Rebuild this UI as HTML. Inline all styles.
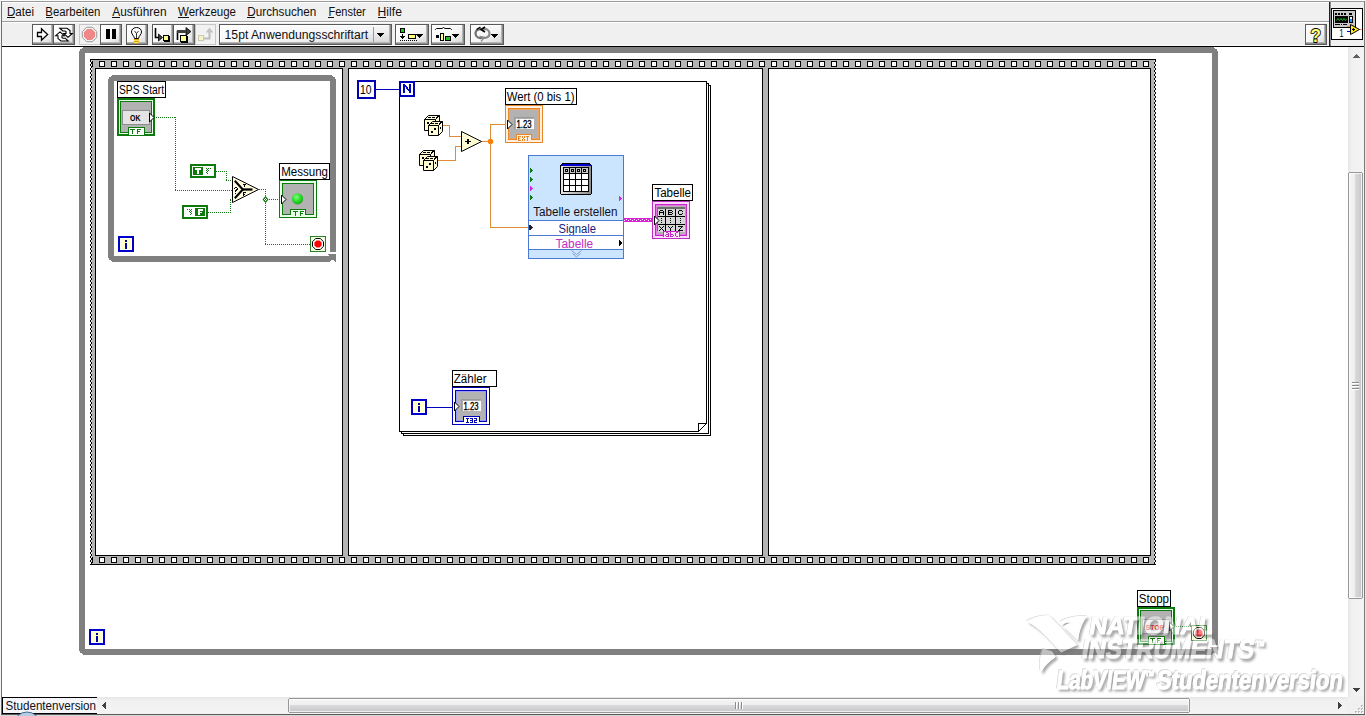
<!DOCTYPE html>
<html><head><meta charset="utf-8"><title>LabVIEW Blockdiagramm</title>
<style>
html,body{margin:0;padding:0;background:#fff;overflow:hidden}
svg{display:block;font-family:"Liberation Sans",sans-serif}
svg rect, svg path.c, svg polygon.c{shape-rendering:crispEdges}
</style></head><body>
<svg width="1366" height="716" viewBox="0 0 1366 716">
<rect x="0" y="0" width="1366" height="716" fill="#ffffff" />
<rect x="0" y="0" width="1366" height="1" fill="#fbfbfb" />
<rect x="1" y="1" width="1364" height="1" fill="#9a9a9a" />
<rect x="2" y="2" width="1327" height="19" fill="#f0f0f0" />
<rect x="2" y="21" width="1327" height="1" fill="#a0a0a0" />
<rect x="2" y="22" width="1327" height="24" fill="#f0f0f0" />
<rect x="2" y="2" width="1327" height="1" fill="#ffffff" />
<rect x="2" y="22" width="1327" height="1" fill="#ffffff" />
<rect x="2" y="45" width="1327" height="1" fill="#fbfbfb" />
<rect x="1329" y="2" width="1" height="44" fill="#202020" />
<rect x="1330" y="2" width="1" height="44" fill="#909090" />
<rect x="1331" y="2" width="33" height="44" fill="#f0f0f0" />
<rect x="2" y="46" width="1362" height="1" fill="#000000" />
<rect x="0" y="0" width="1" height="716" fill="#f4f4f4" />
<rect x="1" y="1" width="1" height="714" fill="#6e6e6e" />
<rect x="1364" y="1" width="1" height="714" fill="#7a7a7a" />
<rect x="1365" y="0" width="1" height="716" fill="#e6e6e6" />
<rect x="1" y="714" width="1364" height="1" fill="#5a5a5a" />
<rect x="0" y="715" width="1366" height="1" fill="#d8d8d8" />
<text x="7" y="16" font-size="12" fill="#111" font-weight="normal" font-style="normal" text-anchor="start" textLength="27" lengthAdjust="spacingAndGlyphs" >Datei</text>
<text x="45.3" y="16" font-size="12" fill="#111" font-weight="normal" font-style="normal" text-anchor="start" textLength="55" lengthAdjust="spacingAndGlyphs" >Bearbeiten</text>
<text x="112.3" y="16" font-size="12" fill="#111" font-weight="normal" font-style="normal" text-anchor="start" textLength="54.2" lengthAdjust="spacingAndGlyphs" >Ausführen</text>
<text x="178" y="16" font-size="12" fill="#111" font-weight="normal" font-style="normal" text-anchor="start" textLength="58" lengthAdjust="spacingAndGlyphs" >Werkzeuge</text>
<text x="247.3" y="16" font-size="12" fill="#111" font-weight="normal" font-style="normal" text-anchor="start" textLength="69" lengthAdjust="spacingAndGlyphs" >Durchsuchen</text>
<text x="328.4" y="16" font-size="12" fill="#111" font-weight="normal" font-style="normal" text-anchor="start" textLength="37.4" lengthAdjust="spacingAndGlyphs" >Fenster</text>
<text x="377.6" y="16" font-size="12" fill="#111" font-weight="normal" font-style="normal" text-anchor="start" textLength="24.3" lengthAdjust="spacingAndGlyphs" >Hilfe</text>
<rect x="7" y="17" width="8" height="1" fill="#111" />
<rect x="46" y="17" width="7" height="1" fill="#111" />
<rect x="112" y="17" width="8" height="1" fill="#111" />
<rect x="178" y="17" width="11" height="1" fill="#111" />
<rect x="247" y="17" width="8" height="1" fill="#111" />
<rect x="328" y="17" width="6" height="1" fill="#111" />
<rect x="378" y="17" width="8" height="1" fill="#111" />
<rect x="79" y="47" width="1139" height="6" fill="#808080" />
<rect x="79" y="47" width="6" height="608" fill="#808080" />
<rect x="1212" y="47" width="6" height="598" fill="#808080" />
<rect x="79" y="649" width="1132" height="6" fill="#808080" />
<rect x="79" y="47" width="4" height="1" fill="#ffffff" />
<rect x="79" y="48" width="3" height="1" fill="#ffffff" />
<rect x="79" y="49" width="1" height="1" fill="#ffffff" />
<rect x="79" y="50" width="1" height="1" fill="#ffffff" />
<rect x="1214" y="47" width="4" height="1" fill="#ffffff" />
<rect x="1215" y="48" width="3" height="1" fill="#ffffff" />
<rect x="1217" y="49" width="1" height="1" fill="#ffffff" />
<rect x="1217" y="50" width="1" height="1" fill="#ffffff" />
<rect x="79" y="654" width="4" height="1" fill="#ffffff" />
<rect x="79" y="653" width="3" height="1" fill="#ffffff" />
<rect x="79" y="652" width="1" height="1" fill="#ffffff" />
<rect x="79" y="651" width="1" height="1" fill="#ffffff" />
<rect x="1210" y="647" width="8" height="1" fill="#808080" />
<rect x="1211" y="648" width="7" height="1" fill="#808080" />
<rect x="1211" y="649" width="7" height="4" fill="#808080" />
<rect x="1211" y="653" width="2" height="1" fill="#808080" />
<rect x="1216" y="653" width="2" height="1" fill="#808080" />
<rect x="1211" y="654" width="1" height="1" fill="#808080" />
<rect x="1217" y="654" width="1" height="1" fill="#808080" />
<rect x="90" y="59" width="6" height="506" fill="#b4b4b4" />
<rect x="1150" y="59" width="6" height="506" fill="#b4b4b4" />
<rect x="90" y="59" width="1066" height="10" fill="#b4b4b4" />
<path d="M99 61h6v6h-6zM111 61h6v6h-6zM123 61h6v6h-6zM135 61h6v6h-6zM147 61h6v6h-6zM159 61h6v6h-6zM171 61h6v6h-6zM183 61h6v6h-6zM195 61h6v6h-6zM207 61h6v6h-6zM219 61h6v6h-6zM231 61h6v6h-6zM243 61h6v6h-6zM255 61h6v6h-6zM267 61h6v6h-6zM279 61h6v6h-6zM291 61h6v6h-6zM303 61h6v6h-6zM315 61h6v6h-6zM327 61h6v6h-6zM339 61h6v6h-6zM351 61h6v6h-6zM363 61h6v6h-6zM375 61h6v6h-6zM387 61h6v6h-6zM399 61h6v6h-6zM411 61h6v6h-6zM423 61h6v6h-6zM435 61h6v6h-6zM447 61h6v6h-6zM459 61h6v6h-6zM471 61h6v6h-6zM483 61h6v6h-6zM495 61h6v6h-6zM507 61h6v6h-6zM519 61h6v6h-6zM531 61h6v6h-6zM543 61h6v6h-6zM555 61h6v6h-6zM567 61h6v6h-6zM579 61h6v6h-6zM591 61h6v6h-6zM603 61h6v6h-6zM615 61h6v6h-6zM627 61h6v6h-6zM639 61h6v6h-6zM651 61h6v6h-6zM663 61h6v6h-6zM675 61h6v6h-6zM687 61h6v6h-6zM699 61h6v6h-6zM711 61h6v6h-6zM723 61h6v6h-6zM735 61h6v6h-6zM747 61h6v6h-6zM759 61h6v6h-6zM771 61h6v6h-6zM783 61h6v6h-6zM795 61h6v6h-6zM807 61h6v6h-6zM819 61h6v6h-6zM831 61h6v6h-6zM843 61h6v6h-6zM855 61h6v6h-6zM867 61h6v6h-6zM879 61h6v6h-6zM891 61h6v6h-6zM903 61h6v6h-6zM915 61h6v6h-6zM927 61h6v6h-6zM939 61h6v6h-6zM951 61h6v6h-6zM963 61h6v6h-6zM975 61h6v6h-6zM987 61h6v6h-6zM999 61h6v6h-6zM1011 61h6v6h-6zM1023 61h6v6h-6zM1035 61h6v6h-6zM1047 61h6v6h-6zM1059 61h6v6h-6zM1071 61h6v6h-6zM1083 61h6v6h-6zM1095 61h6v6h-6zM1107 61h6v6h-6zM1119 61h6v6h-6zM1131 61h6v6h-6zM1143 61h6v6h-6z" fill="#000" stroke="none" stroke-width="1" class="c"/>
<path d="M100 62h4v4h-4zM112 62h4v4h-4zM124 62h4v4h-4zM136 62h4v4h-4zM148 62h4v4h-4zM160 62h4v4h-4zM172 62h4v4h-4zM184 62h4v4h-4zM196 62h4v4h-4zM208 62h4v4h-4zM220 62h4v4h-4zM232 62h4v4h-4zM244 62h4v4h-4zM256 62h4v4h-4zM268 62h4v4h-4zM280 62h4v4h-4zM292 62h4v4h-4zM304 62h4v4h-4zM316 62h4v4h-4zM328 62h4v4h-4zM340 62h4v4h-4zM352 62h4v4h-4zM364 62h4v4h-4zM376 62h4v4h-4zM388 62h4v4h-4zM400 62h4v4h-4zM412 62h4v4h-4zM424 62h4v4h-4zM436 62h4v4h-4zM448 62h4v4h-4zM460 62h4v4h-4zM472 62h4v4h-4zM484 62h4v4h-4zM496 62h4v4h-4zM508 62h4v4h-4zM520 62h4v4h-4zM532 62h4v4h-4zM544 62h4v4h-4zM556 62h4v4h-4zM568 62h4v4h-4zM580 62h4v4h-4zM592 62h4v4h-4zM604 62h4v4h-4zM616 62h4v4h-4zM628 62h4v4h-4zM640 62h4v4h-4zM652 62h4v4h-4zM664 62h4v4h-4zM676 62h4v4h-4zM688 62h4v4h-4zM700 62h4v4h-4zM712 62h4v4h-4zM724 62h4v4h-4zM736 62h4v4h-4zM748 62h4v4h-4zM760 62h4v4h-4zM772 62h4v4h-4zM784 62h4v4h-4zM796 62h4v4h-4zM808 62h4v4h-4zM820 62h4v4h-4zM832 62h4v4h-4zM844 62h4v4h-4zM856 62h4v4h-4zM868 62h4v4h-4zM880 62h4v4h-4zM892 62h4v4h-4zM904 62h4v4h-4zM916 62h4v4h-4zM928 62h4v4h-4zM940 62h4v4h-4zM952 62h4v4h-4zM964 62h4v4h-4zM976 62h4v4h-4zM988 62h4v4h-4zM1000 62h4v4h-4zM1012 62h4v4h-4zM1024 62h4v4h-4zM1036 62h4v4h-4zM1048 62h4v4h-4zM1060 62h4v4h-4zM1072 62h4v4h-4zM1084 62h4v4h-4zM1096 62h4v4h-4zM1108 62h4v4h-4zM1120 62h4v4h-4zM1132 62h4v4h-4zM1144 62h4v4h-4z" fill="#fff" stroke="none" stroke-width="1" class="c"/>
<rect x="90" y="555" width="1066" height="10" fill="#b4b4b4" />
<path d="M99 557h6v6h-6zM111 557h6v6h-6zM123 557h6v6h-6zM135 557h6v6h-6zM147 557h6v6h-6zM159 557h6v6h-6zM171 557h6v6h-6zM183 557h6v6h-6zM195 557h6v6h-6zM207 557h6v6h-6zM219 557h6v6h-6zM231 557h6v6h-6zM243 557h6v6h-6zM255 557h6v6h-6zM267 557h6v6h-6zM279 557h6v6h-6zM291 557h6v6h-6zM303 557h6v6h-6zM315 557h6v6h-6zM327 557h6v6h-6zM339 557h6v6h-6zM351 557h6v6h-6zM363 557h6v6h-6zM375 557h6v6h-6zM387 557h6v6h-6zM399 557h6v6h-6zM411 557h6v6h-6zM423 557h6v6h-6zM435 557h6v6h-6zM447 557h6v6h-6zM459 557h6v6h-6zM471 557h6v6h-6zM483 557h6v6h-6zM495 557h6v6h-6zM507 557h6v6h-6zM519 557h6v6h-6zM531 557h6v6h-6zM543 557h6v6h-6zM555 557h6v6h-6zM567 557h6v6h-6zM579 557h6v6h-6zM591 557h6v6h-6zM603 557h6v6h-6zM615 557h6v6h-6zM627 557h6v6h-6zM639 557h6v6h-6zM651 557h6v6h-6zM663 557h6v6h-6zM675 557h6v6h-6zM687 557h6v6h-6zM699 557h6v6h-6zM711 557h6v6h-6zM723 557h6v6h-6zM735 557h6v6h-6zM747 557h6v6h-6zM759 557h6v6h-6zM771 557h6v6h-6zM783 557h6v6h-6zM795 557h6v6h-6zM807 557h6v6h-6zM819 557h6v6h-6zM831 557h6v6h-6zM843 557h6v6h-6zM855 557h6v6h-6zM867 557h6v6h-6zM879 557h6v6h-6zM891 557h6v6h-6zM903 557h6v6h-6zM915 557h6v6h-6zM927 557h6v6h-6zM939 557h6v6h-6zM951 557h6v6h-6zM963 557h6v6h-6zM975 557h6v6h-6zM987 557h6v6h-6zM999 557h6v6h-6zM1011 557h6v6h-6zM1023 557h6v6h-6zM1035 557h6v6h-6zM1047 557h6v6h-6zM1059 557h6v6h-6zM1071 557h6v6h-6zM1083 557h6v6h-6zM1095 557h6v6h-6zM1107 557h6v6h-6zM1119 557h6v6h-6zM1131 557h6v6h-6zM1143 557h6v6h-6z" fill="#000" stroke="none" stroke-width="1" class="c"/>
<path d="M100 558h4v4h-4zM112 558h4v4h-4zM124 558h4v4h-4zM136 558h4v4h-4zM148 558h4v4h-4zM160 558h4v4h-4zM172 558h4v4h-4zM184 558h4v4h-4zM196 558h4v4h-4zM208 558h4v4h-4zM220 558h4v4h-4zM232 558h4v4h-4zM244 558h4v4h-4zM256 558h4v4h-4zM268 558h4v4h-4zM280 558h4v4h-4zM292 558h4v4h-4zM304 558h4v4h-4zM316 558h4v4h-4zM328 558h4v4h-4zM340 558h4v4h-4zM352 558h4v4h-4zM364 558h4v4h-4zM376 558h4v4h-4zM388 558h4v4h-4zM400 558h4v4h-4zM412 558h4v4h-4zM424 558h4v4h-4zM436 558h4v4h-4zM448 558h4v4h-4zM460 558h4v4h-4zM472 558h4v4h-4zM484 558h4v4h-4zM496 558h4v4h-4zM508 558h4v4h-4zM520 558h4v4h-4zM532 558h4v4h-4zM544 558h4v4h-4zM556 558h4v4h-4zM568 558h4v4h-4zM580 558h4v4h-4zM592 558h4v4h-4zM604 558h4v4h-4zM616 558h4v4h-4zM628 558h4v4h-4zM640 558h4v4h-4zM652 558h4v4h-4zM664 558h4v4h-4zM676 558h4v4h-4zM688 558h4v4h-4zM700 558h4v4h-4zM712 558h4v4h-4zM724 558h4v4h-4zM736 558h4v4h-4zM748 558h4v4h-4zM760 558h4v4h-4zM772 558h4v4h-4zM784 558h4v4h-4zM796 558h4v4h-4zM808 558h4v4h-4zM820 558h4v4h-4zM832 558h4v4h-4zM844 558h4v4h-4zM856 558h4v4h-4zM868 558h4v4h-4zM880 558h4v4h-4zM892 558h4v4h-4zM904 558h4v4h-4zM916 558h4v4h-4zM928 558h4v4h-4zM940 558h4v4h-4zM952 558h4v4h-4zM964 558h4v4h-4zM976 558h4v4h-4zM988 558h4v4h-4zM1000 558h4v4h-4zM1012 558h4v4h-4zM1024 558h4v4h-4zM1036 558h4v4h-4zM1048 558h4v4h-4zM1060 558h4v4h-4zM1072 558h4v4h-4zM1084 558h4v4h-4zM1096 558h4v4h-4zM1108 558h4v4h-4zM1120 558h4v4h-4zM1132 558h4v4h-4zM1144 558h4v4h-4z" fill="#fff" stroke="none" stroke-width="1" class="c"/>
<rect x="90" y="59" width="1066" height="1" fill="#000" />
<rect x="90" y="564" width="1066" height="1" fill="#000" />
<rect x="95" y="68" width="248" height="488" fill="#000" />
<rect x="96" y="69" width="246" height="486" fill="#fff" />
<rect x="348" y="68" width="415" height="488" fill="#000" />
<rect x="349" y="69" width="413" height="486" fill="#fff" />
<rect x="768" y="68" width="383" height="488" fill="#000" />
<rect x="769" y="69" width="381" height="486" fill="#fff" />
<rect x="343" y="69" width="5" height="486" fill="#b4b4b4" />
<rect x="763" y="69" width="5" height="486" fill="#b4b4b4" />
<rect x="90" y="61" width="3" height="6" fill="#000" />
<rect x="90" y="62" width="2" height="4" fill="#fff" />
<rect x="90" y="557" width="3" height="6" fill="#000" />
<rect x="90" y="558" width="2" height="4" fill="#fff" />
<rect x="90" y="60" width="2" height="504" fill="#fff" />
<rect x="91" y="60" width="1" height="504" fill="#dedede" />
<path d="M90 60h1v1h-1zM90 61h1v1h-1zM91 62h1v1h-1zM91 63h1v1h-1zM90 64h1v1h-1zM90 65h1v1h-1zM91 66h1v1h-1zM91 67h1v1h-1zM90 68h1v1h-1zM90 69h1v1h-1zM91 70h1v1h-1zM91 71h1v1h-1zM90 72h1v1h-1zM90 73h1v1h-1zM91 74h1v1h-1zM91 75h1v1h-1zM90 76h1v1h-1zM90 77h1v1h-1zM91 78h1v1h-1zM91 79h1v1h-1zM90 80h1v1h-1zM90 81h1v1h-1zM91 82h1v1h-1zM91 83h1v1h-1zM90 84h1v1h-1zM90 85h1v1h-1zM91 86h1v1h-1zM91 87h1v1h-1zM90 88h1v1h-1zM90 89h1v1h-1zM91 90h1v1h-1zM91 91h1v1h-1zM90 92h1v1h-1zM90 93h1v1h-1zM91 94h1v1h-1zM91 95h1v1h-1zM90 96h1v1h-1zM90 97h1v1h-1zM91 98h1v1h-1zM91 99h1v1h-1zM90 100h1v1h-1zM90 101h1v1h-1zM91 102h1v1h-1zM91 103h1v1h-1zM90 104h1v1h-1zM90 105h1v1h-1zM91 106h1v1h-1zM91 107h1v1h-1zM90 108h1v1h-1zM90 109h1v1h-1zM91 110h1v1h-1zM91 111h1v1h-1zM90 112h1v1h-1zM90 113h1v1h-1zM91 114h1v1h-1zM91 115h1v1h-1zM90 116h1v1h-1zM90 117h1v1h-1zM91 118h1v1h-1zM91 119h1v1h-1zM90 120h1v1h-1zM90 121h1v1h-1zM91 122h1v1h-1zM91 123h1v1h-1zM90 124h1v1h-1zM90 125h1v1h-1zM91 126h1v1h-1zM91 127h1v1h-1zM90 128h1v1h-1zM90 129h1v1h-1zM91 130h1v1h-1zM91 131h1v1h-1zM90 132h1v1h-1zM90 133h1v1h-1zM91 134h1v1h-1zM91 135h1v1h-1zM90 136h1v1h-1zM90 137h1v1h-1zM91 138h1v1h-1zM91 139h1v1h-1zM90 140h1v1h-1zM90 141h1v1h-1zM91 142h1v1h-1zM91 143h1v1h-1zM90 144h1v1h-1zM90 145h1v1h-1zM91 146h1v1h-1zM91 147h1v1h-1zM90 148h1v1h-1zM90 149h1v1h-1zM91 150h1v1h-1zM91 151h1v1h-1zM90 152h1v1h-1zM90 153h1v1h-1zM91 154h1v1h-1zM91 155h1v1h-1zM90 156h1v1h-1zM90 157h1v1h-1zM91 158h1v1h-1zM91 159h1v1h-1zM90 160h1v1h-1zM90 161h1v1h-1zM91 162h1v1h-1zM91 163h1v1h-1zM90 164h1v1h-1zM90 165h1v1h-1zM91 166h1v1h-1zM91 167h1v1h-1zM90 168h1v1h-1zM90 169h1v1h-1zM91 170h1v1h-1zM91 171h1v1h-1zM90 172h1v1h-1zM90 173h1v1h-1zM91 174h1v1h-1zM91 175h1v1h-1zM90 176h1v1h-1zM90 177h1v1h-1zM91 178h1v1h-1zM91 179h1v1h-1zM90 180h1v1h-1zM90 181h1v1h-1zM91 182h1v1h-1zM91 183h1v1h-1zM90 184h1v1h-1zM90 185h1v1h-1zM91 186h1v1h-1zM91 187h1v1h-1zM90 188h1v1h-1zM90 189h1v1h-1zM91 190h1v1h-1zM91 191h1v1h-1zM90 192h1v1h-1zM90 193h1v1h-1zM91 194h1v1h-1zM91 195h1v1h-1zM90 196h1v1h-1zM90 197h1v1h-1zM91 198h1v1h-1zM91 199h1v1h-1zM90 200h1v1h-1zM90 201h1v1h-1zM91 202h1v1h-1zM91 203h1v1h-1zM90 204h1v1h-1zM90 205h1v1h-1zM91 206h1v1h-1zM91 207h1v1h-1zM90 208h1v1h-1zM90 209h1v1h-1zM91 210h1v1h-1zM91 211h1v1h-1zM90 212h1v1h-1zM90 213h1v1h-1zM91 214h1v1h-1zM91 215h1v1h-1zM90 216h1v1h-1zM90 217h1v1h-1zM91 218h1v1h-1zM91 219h1v1h-1zM90 220h1v1h-1zM90 221h1v1h-1zM91 222h1v1h-1zM91 223h1v1h-1zM90 224h1v1h-1zM90 225h1v1h-1zM91 226h1v1h-1zM91 227h1v1h-1zM90 228h1v1h-1zM90 229h1v1h-1zM91 230h1v1h-1zM91 231h1v1h-1zM90 232h1v1h-1zM90 233h1v1h-1zM91 234h1v1h-1zM91 235h1v1h-1zM90 236h1v1h-1zM90 237h1v1h-1zM91 238h1v1h-1zM91 239h1v1h-1zM90 240h1v1h-1zM90 241h1v1h-1zM91 242h1v1h-1zM91 243h1v1h-1zM90 244h1v1h-1zM90 245h1v1h-1zM91 246h1v1h-1zM91 247h1v1h-1zM90 248h1v1h-1zM90 249h1v1h-1zM91 250h1v1h-1zM91 251h1v1h-1zM90 252h1v1h-1zM90 253h1v1h-1zM91 254h1v1h-1zM91 255h1v1h-1zM90 256h1v1h-1zM90 257h1v1h-1zM91 258h1v1h-1zM91 259h1v1h-1zM90 260h1v1h-1zM90 261h1v1h-1zM91 262h1v1h-1zM91 263h1v1h-1zM90 264h1v1h-1zM90 265h1v1h-1zM91 266h1v1h-1zM91 267h1v1h-1zM90 268h1v1h-1zM90 269h1v1h-1zM91 270h1v1h-1zM91 271h1v1h-1zM90 272h1v1h-1zM90 273h1v1h-1zM91 274h1v1h-1zM91 275h1v1h-1zM90 276h1v1h-1zM90 277h1v1h-1zM91 278h1v1h-1zM91 279h1v1h-1zM90 280h1v1h-1zM90 281h1v1h-1zM91 282h1v1h-1zM91 283h1v1h-1zM90 284h1v1h-1zM90 285h1v1h-1zM91 286h1v1h-1zM91 287h1v1h-1zM90 288h1v1h-1zM90 289h1v1h-1zM91 290h1v1h-1zM91 291h1v1h-1zM90 292h1v1h-1zM90 293h1v1h-1zM91 294h1v1h-1zM91 295h1v1h-1zM90 296h1v1h-1zM90 297h1v1h-1zM91 298h1v1h-1zM91 299h1v1h-1zM90 300h1v1h-1zM90 301h1v1h-1zM91 302h1v1h-1zM91 303h1v1h-1zM90 304h1v1h-1zM90 305h1v1h-1zM91 306h1v1h-1zM91 307h1v1h-1zM90 308h1v1h-1zM90 309h1v1h-1zM91 310h1v1h-1zM91 311h1v1h-1zM90 312h1v1h-1zM90 313h1v1h-1zM91 314h1v1h-1zM91 315h1v1h-1zM90 316h1v1h-1zM90 317h1v1h-1zM91 318h1v1h-1zM91 319h1v1h-1zM90 320h1v1h-1zM90 321h1v1h-1zM91 322h1v1h-1zM91 323h1v1h-1zM90 324h1v1h-1zM90 325h1v1h-1zM91 326h1v1h-1zM91 327h1v1h-1zM90 328h1v1h-1zM90 329h1v1h-1zM91 330h1v1h-1zM91 331h1v1h-1zM90 332h1v1h-1zM90 333h1v1h-1zM91 334h1v1h-1zM91 335h1v1h-1zM90 336h1v1h-1zM90 337h1v1h-1zM91 338h1v1h-1zM91 339h1v1h-1zM90 340h1v1h-1zM90 341h1v1h-1zM91 342h1v1h-1zM91 343h1v1h-1zM90 344h1v1h-1zM90 345h1v1h-1zM91 346h1v1h-1zM91 347h1v1h-1zM90 348h1v1h-1zM90 349h1v1h-1zM91 350h1v1h-1zM91 351h1v1h-1zM90 352h1v1h-1zM90 353h1v1h-1zM91 354h1v1h-1zM91 355h1v1h-1zM90 356h1v1h-1zM90 357h1v1h-1zM91 358h1v1h-1zM91 359h1v1h-1zM90 360h1v1h-1zM90 361h1v1h-1zM91 362h1v1h-1zM91 363h1v1h-1zM90 364h1v1h-1zM90 365h1v1h-1zM91 366h1v1h-1zM91 367h1v1h-1zM90 368h1v1h-1zM90 369h1v1h-1zM91 370h1v1h-1zM91 371h1v1h-1zM90 372h1v1h-1zM90 373h1v1h-1zM91 374h1v1h-1zM91 375h1v1h-1zM90 376h1v1h-1zM90 377h1v1h-1zM91 378h1v1h-1zM91 379h1v1h-1zM90 380h1v1h-1zM90 381h1v1h-1zM91 382h1v1h-1zM91 383h1v1h-1zM90 384h1v1h-1zM90 385h1v1h-1zM91 386h1v1h-1zM91 387h1v1h-1zM90 388h1v1h-1zM90 389h1v1h-1zM91 390h1v1h-1zM91 391h1v1h-1zM90 392h1v1h-1zM90 393h1v1h-1zM91 394h1v1h-1zM91 395h1v1h-1zM90 396h1v1h-1zM90 397h1v1h-1zM91 398h1v1h-1zM91 399h1v1h-1zM90 400h1v1h-1zM90 401h1v1h-1zM91 402h1v1h-1zM91 403h1v1h-1zM90 404h1v1h-1zM90 405h1v1h-1zM91 406h1v1h-1zM91 407h1v1h-1zM90 408h1v1h-1zM90 409h1v1h-1zM91 410h1v1h-1zM91 411h1v1h-1zM90 412h1v1h-1zM90 413h1v1h-1zM91 414h1v1h-1zM91 415h1v1h-1zM90 416h1v1h-1zM90 417h1v1h-1zM91 418h1v1h-1zM91 419h1v1h-1zM90 420h1v1h-1zM90 421h1v1h-1zM91 422h1v1h-1zM91 423h1v1h-1zM90 424h1v1h-1zM90 425h1v1h-1zM91 426h1v1h-1zM91 427h1v1h-1zM90 428h1v1h-1zM90 429h1v1h-1zM91 430h1v1h-1zM91 431h1v1h-1zM90 432h1v1h-1zM90 433h1v1h-1zM91 434h1v1h-1zM91 435h1v1h-1zM90 436h1v1h-1zM90 437h1v1h-1zM91 438h1v1h-1zM91 439h1v1h-1zM90 440h1v1h-1zM90 441h1v1h-1zM91 442h1v1h-1zM91 443h1v1h-1zM90 444h1v1h-1zM90 445h1v1h-1zM91 446h1v1h-1zM91 447h1v1h-1zM90 448h1v1h-1zM90 449h1v1h-1zM91 450h1v1h-1zM91 451h1v1h-1zM90 452h1v1h-1zM90 453h1v1h-1zM91 454h1v1h-1zM91 455h1v1h-1zM90 456h1v1h-1zM90 457h1v1h-1zM91 458h1v1h-1zM91 459h1v1h-1zM90 460h1v1h-1zM90 461h1v1h-1zM91 462h1v1h-1zM91 463h1v1h-1zM90 464h1v1h-1zM90 465h1v1h-1zM91 466h1v1h-1zM91 467h1v1h-1zM90 468h1v1h-1zM90 469h1v1h-1zM91 470h1v1h-1zM91 471h1v1h-1zM90 472h1v1h-1zM90 473h1v1h-1zM91 474h1v1h-1zM91 475h1v1h-1zM90 476h1v1h-1zM90 477h1v1h-1zM91 478h1v1h-1zM91 479h1v1h-1zM90 480h1v1h-1zM90 481h1v1h-1zM91 482h1v1h-1zM91 483h1v1h-1zM90 484h1v1h-1zM90 485h1v1h-1zM91 486h1v1h-1zM91 487h1v1h-1zM90 488h1v1h-1zM90 489h1v1h-1zM91 490h1v1h-1zM91 491h1v1h-1zM90 492h1v1h-1zM90 493h1v1h-1zM91 494h1v1h-1zM91 495h1v1h-1zM90 496h1v1h-1zM90 497h1v1h-1zM91 498h1v1h-1zM91 499h1v1h-1zM90 500h1v1h-1zM90 501h1v1h-1zM91 502h1v1h-1zM91 503h1v1h-1zM90 504h1v1h-1zM90 505h1v1h-1zM91 506h1v1h-1zM91 507h1v1h-1zM90 508h1v1h-1zM90 509h1v1h-1zM91 510h1v1h-1zM91 511h1v1h-1zM90 512h1v1h-1zM90 513h1v1h-1zM91 514h1v1h-1zM91 515h1v1h-1zM90 516h1v1h-1zM90 517h1v1h-1zM91 518h1v1h-1zM91 519h1v1h-1zM90 520h1v1h-1zM90 521h1v1h-1zM91 522h1v1h-1zM91 523h1v1h-1zM90 524h1v1h-1zM90 525h1v1h-1zM91 526h1v1h-1zM91 527h1v1h-1zM90 528h1v1h-1zM90 529h1v1h-1zM91 530h1v1h-1zM91 531h1v1h-1zM90 532h1v1h-1zM90 533h1v1h-1zM91 534h1v1h-1zM91 535h1v1h-1zM90 536h1v1h-1zM90 537h1v1h-1zM91 538h1v1h-1zM91 539h1v1h-1zM90 540h1v1h-1zM90 541h1v1h-1zM91 542h1v1h-1zM91 543h1v1h-1zM90 544h1v1h-1zM90 545h1v1h-1zM91 546h1v1h-1zM91 547h1v1h-1zM90 548h1v1h-1zM90 549h1v1h-1zM91 550h1v1h-1zM91 551h1v1h-1zM90 552h1v1h-1zM90 553h1v1h-1zM91 554h1v1h-1zM91 555h1v1h-1zM90 556h1v1h-1zM90 557h1v1h-1zM91 558h1v1h-1zM91 559h1v1h-1zM90 560h1v1h-1zM90 561h1v1h-1zM91 562h1v1h-1zM91 563h1v1h-1z" fill="#000" stroke="none" stroke-width="1" class="c"/>
<rect x="1154" y="60" width="2" height="504" fill="#fff" />
<rect x="1154" y="60" width="1" height="504" fill="#dedede" />
<path d="M1155 60h1v1h-1zM1155 61h1v1h-1zM1154 62h1v1h-1zM1154 63h1v1h-1zM1155 64h1v1h-1zM1155 65h1v1h-1zM1154 66h1v1h-1zM1154 67h1v1h-1zM1155 68h1v1h-1zM1155 69h1v1h-1zM1154 70h1v1h-1zM1154 71h1v1h-1zM1155 72h1v1h-1zM1155 73h1v1h-1zM1154 74h1v1h-1zM1154 75h1v1h-1zM1155 76h1v1h-1zM1155 77h1v1h-1zM1154 78h1v1h-1zM1154 79h1v1h-1zM1155 80h1v1h-1zM1155 81h1v1h-1zM1154 82h1v1h-1zM1154 83h1v1h-1zM1155 84h1v1h-1zM1155 85h1v1h-1zM1154 86h1v1h-1zM1154 87h1v1h-1zM1155 88h1v1h-1zM1155 89h1v1h-1zM1154 90h1v1h-1zM1154 91h1v1h-1zM1155 92h1v1h-1zM1155 93h1v1h-1zM1154 94h1v1h-1zM1154 95h1v1h-1zM1155 96h1v1h-1zM1155 97h1v1h-1zM1154 98h1v1h-1zM1154 99h1v1h-1zM1155 100h1v1h-1zM1155 101h1v1h-1zM1154 102h1v1h-1zM1154 103h1v1h-1zM1155 104h1v1h-1zM1155 105h1v1h-1zM1154 106h1v1h-1zM1154 107h1v1h-1zM1155 108h1v1h-1zM1155 109h1v1h-1zM1154 110h1v1h-1zM1154 111h1v1h-1zM1155 112h1v1h-1zM1155 113h1v1h-1zM1154 114h1v1h-1zM1154 115h1v1h-1zM1155 116h1v1h-1zM1155 117h1v1h-1zM1154 118h1v1h-1zM1154 119h1v1h-1zM1155 120h1v1h-1zM1155 121h1v1h-1zM1154 122h1v1h-1zM1154 123h1v1h-1zM1155 124h1v1h-1zM1155 125h1v1h-1zM1154 126h1v1h-1zM1154 127h1v1h-1zM1155 128h1v1h-1zM1155 129h1v1h-1zM1154 130h1v1h-1zM1154 131h1v1h-1zM1155 132h1v1h-1zM1155 133h1v1h-1zM1154 134h1v1h-1zM1154 135h1v1h-1zM1155 136h1v1h-1zM1155 137h1v1h-1zM1154 138h1v1h-1zM1154 139h1v1h-1zM1155 140h1v1h-1zM1155 141h1v1h-1zM1154 142h1v1h-1zM1154 143h1v1h-1zM1155 144h1v1h-1zM1155 145h1v1h-1zM1154 146h1v1h-1zM1154 147h1v1h-1zM1155 148h1v1h-1zM1155 149h1v1h-1zM1154 150h1v1h-1zM1154 151h1v1h-1zM1155 152h1v1h-1zM1155 153h1v1h-1zM1154 154h1v1h-1zM1154 155h1v1h-1zM1155 156h1v1h-1zM1155 157h1v1h-1zM1154 158h1v1h-1zM1154 159h1v1h-1zM1155 160h1v1h-1zM1155 161h1v1h-1zM1154 162h1v1h-1zM1154 163h1v1h-1zM1155 164h1v1h-1zM1155 165h1v1h-1zM1154 166h1v1h-1zM1154 167h1v1h-1zM1155 168h1v1h-1zM1155 169h1v1h-1zM1154 170h1v1h-1zM1154 171h1v1h-1zM1155 172h1v1h-1zM1155 173h1v1h-1zM1154 174h1v1h-1zM1154 175h1v1h-1zM1155 176h1v1h-1zM1155 177h1v1h-1zM1154 178h1v1h-1zM1154 179h1v1h-1zM1155 180h1v1h-1zM1155 181h1v1h-1zM1154 182h1v1h-1zM1154 183h1v1h-1zM1155 184h1v1h-1zM1155 185h1v1h-1zM1154 186h1v1h-1zM1154 187h1v1h-1zM1155 188h1v1h-1zM1155 189h1v1h-1zM1154 190h1v1h-1zM1154 191h1v1h-1zM1155 192h1v1h-1zM1155 193h1v1h-1zM1154 194h1v1h-1zM1154 195h1v1h-1zM1155 196h1v1h-1zM1155 197h1v1h-1zM1154 198h1v1h-1zM1154 199h1v1h-1zM1155 200h1v1h-1zM1155 201h1v1h-1zM1154 202h1v1h-1zM1154 203h1v1h-1zM1155 204h1v1h-1zM1155 205h1v1h-1zM1154 206h1v1h-1zM1154 207h1v1h-1zM1155 208h1v1h-1zM1155 209h1v1h-1zM1154 210h1v1h-1zM1154 211h1v1h-1zM1155 212h1v1h-1zM1155 213h1v1h-1zM1154 214h1v1h-1zM1154 215h1v1h-1zM1155 216h1v1h-1zM1155 217h1v1h-1zM1154 218h1v1h-1zM1154 219h1v1h-1zM1155 220h1v1h-1zM1155 221h1v1h-1zM1154 222h1v1h-1zM1154 223h1v1h-1zM1155 224h1v1h-1zM1155 225h1v1h-1zM1154 226h1v1h-1zM1154 227h1v1h-1zM1155 228h1v1h-1zM1155 229h1v1h-1zM1154 230h1v1h-1zM1154 231h1v1h-1zM1155 232h1v1h-1zM1155 233h1v1h-1zM1154 234h1v1h-1zM1154 235h1v1h-1zM1155 236h1v1h-1zM1155 237h1v1h-1zM1154 238h1v1h-1zM1154 239h1v1h-1zM1155 240h1v1h-1zM1155 241h1v1h-1zM1154 242h1v1h-1zM1154 243h1v1h-1zM1155 244h1v1h-1zM1155 245h1v1h-1zM1154 246h1v1h-1zM1154 247h1v1h-1zM1155 248h1v1h-1zM1155 249h1v1h-1zM1154 250h1v1h-1zM1154 251h1v1h-1zM1155 252h1v1h-1zM1155 253h1v1h-1zM1154 254h1v1h-1zM1154 255h1v1h-1zM1155 256h1v1h-1zM1155 257h1v1h-1zM1154 258h1v1h-1zM1154 259h1v1h-1zM1155 260h1v1h-1zM1155 261h1v1h-1zM1154 262h1v1h-1zM1154 263h1v1h-1zM1155 264h1v1h-1zM1155 265h1v1h-1zM1154 266h1v1h-1zM1154 267h1v1h-1zM1155 268h1v1h-1zM1155 269h1v1h-1zM1154 270h1v1h-1zM1154 271h1v1h-1zM1155 272h1v1h-1zM1155 273h1v1h-1zM1154 274h1v1h-1zM1154 275h1v1h-1zM1155 276h1v1h-1zM1155 277h1v1h-1zM1154 278h1v1h-1zM1154 279h1v1h-1zM1155 280h1v1h-1zM1155 281h1v1h-1zM1154 282h1v1h-1zM1154 283h1v1h-1zM1155 284h1v1h-1zM1155 285h1v1h-1zM1154 286h1v1h-1zM1154 287h1v1h-1zM1155 288h1v1h-1zM1155 289h1v1h-1zM1154 290h1v1h-1zM1154 291h1v1h-1zM1155 292h1v1h-1zM1155 293h1v1h-1zM1154 294h1v1h-1zM1154 295h1v1h-1zM1155 296h1v1h-1zM1155 297h1v1h-1zM1154 298h1v1h-1zM1154 299h1v1h-1zM1155 300h1v1h-1zM1155 301h1v1h-1zM1154 302h1v1h-1zM1154 303h1v1h-1zM1155 304h1v1h-1zM1155 305h1v1h-1zM1154 306h1v1h-1zM1154 307h1v1h-1zM1155 308h1v1h-1zM1155 309h1v1h-1zM1154 310h1v1h-1zM1154 311h1v1h-1zM1155 312h1v1h-1zM1155 313h1v1h-1zM1154 314h1v1h-1zM1154 315h1v1h-1zM1155 316h1v1h-1zM1155 317h1v1h-1zM1154 318h1v1h-1zM1154 319h1v1h-1zM1155 320h1v1h-1zM1155 321h1v1h-1zM1154 322h1v1h-1zM1154 323h1v1h-1zM1155 324h1v1h-1zM1155 325h1v1h-1zM1154 326h1v1h-1zM1154 327h1v1h-1zM1155 328h1v1h-1zM1155 329h1v1h-1zM1154 330h1v1h-1zM1154 331h1v1h-1zM1155 332h1v1h-1zM1155 333h1v1h-1zM1154 334h1v1h-1zM1154 335h1v1h-1zM1155 336h1v1h-1zM1155 337h1v1h-1zM1154 338h1v1h-1zM1154 339h1v1h-1zM1155 340h1v1h-1zM1155 341h1v1h-1zM1154 342h1v1h-1zM1154 343h1v1h-1zM1155 344h1v1h-1zM1155 345h1v1h-1zM1154 346h1v1h-1zM1154 347h1v1h-1zM1155 348h1v1h-1zM1155 349h1v1h-1zM1154 350h1v1h-1zM1154 351h1v1h-1zM1155 352h1v1h-1zM1155 353h1v1h-1zM1154 354h1v1h-1zM1154 355h1v1h-1zM1155 356h1v1h-1zM1155 357h1v1h-1zM1154 358h1v1h-1zM1154 359h1v1h-1zM1155 360h1v1h-1zM1155 361h1v1h-1zM1154 362h1v1h-1zM1154 363h1v1h-1zM1155 364h1v1h-1zM1155 365h1v1h-1zM1154 366h1v1h-1zM1154 367h1v1h-1zM1155 368h1v1h-1zM1155 369h1v1h-1zM1154 370h1v1h-1zM1154 371h1v1h-1zM1155 372h1v1h-1zM1155 373h1v1h-1zM1154 374h1v1h-1zM1154 375h1v1h-1zM1155 376h1v1h-1zM1155 377h1v1h-1zM1154 378h1v1h-1zM1154 379h1v1h-1zM1155 380h1v1h-1zM1155 381h1v1h-1zM1154 382h1v1h-1zM1154 383h1v1h-1zM1155 384h1v1h-1zM1155 385h1v1h-1zM1154 386h1v1h-1zM1154 387h1v1h-1zM1155 388h1v1h-1zM1155 389h1v1h-1zM1154 390h1v1h-1zM1154 391h1v1h-1zM1155 392h1v1h-1zM1155 393h1v1h-1zM1154 394h1v1h-1zM1154 395h1v1h-1zM1155 396h1v1h-1zM1155 397h1v1h-1zM1154 398h1v1h-1zM1154 399h1v1h-1zM1155 400h1v1h-1zM1155 401h1v1h-1zM1154 402h1v1h-1zM1154 403h1v1h-1zM1155 404h1v1h-1zM1155 405h1v1h-1zM1154 406h1v1h-1zM1154 407h1v1h-1zM1155 408h1v1h-1zM1155 409h1v1h-1zM1154 410h1v1h-1zM1154 411h1v1h-1zM1155 412h1v1h-1zM1155 413h1v1h-1zM1154 414h1v1h-1zM1154 415h1v1h-1zM1155 416h1v1h-1zM1155 417h1v1h-1zM1154 418h1v1h-1zM1154 419h1v1h-1zM1155 420h1v1h-1zM1155 421h1v1h-1zM1154 422h1v1h-1zM1154 423h1v1h-1zM1155 424h1v1h-1zM1155 425h1v1h-1zM1154 426h1v1h-1zM1154 427h1v1h-1zM1155 428h1v1h-1zM1155 429h1v1h-1zM1154 430h1v1h-1zM1154 431h1v1h-1zM1155 432h1v1h-1zM1155 433h1v1h-1zM1154 434h1v1h-1zM1154 435h1v1h-1zM1155 436h1v1h-1zM1155 437h1v1h-1zM1154 438h1v1h-1zM1154 439h1v1h-1zM1155 440h1v1h-1zM1155 441h1v1h-1zM1154 442h1v1h-1zM1154 443h1v1h-1zM1155 444h1v1h-1zM1155 445h1v1h-1zM1154 446h1v1h-1zM1154 447h1v1h-1zM1155 448h1v1h-1zM1155 449h1v1h-1zM1154 450h1v1h-1zM1154 451h1v1h-1zM1155 452h1v1h-1zM1155 453h1v1h-1zM1154 454h1v1h-1zM1154 455h1v1h-1zM1155 456h1v1h-1zM1155 457h1v1h-1zM1154 458h1v1h-1zM1154 459h1v1h-1zM1155 460h1v1h-1zM1155 461h1v1h-1zM1154 462h1v1h-1zM1154 463h1v1h-1zM1155 464h1v1h-1zM1155 465h1v1h-1zM1154 466h1v1h-1zM1154 467h1v1h-1zM1155 468h1v1h-1zM1155 469h1v1h-1zM1154 470h1v1h-1zM1154 471h1v1h-1zM1155 472h1v1h-1zM1155 473h1v1h-1zM1154 474h1v1h-1zM1154 475h1v1h-1zM1155 476h1v1h-1zM1155 477h1v1h-1zM1154 478h1v1h-1zM1154 479h1v1h-1zM1155 480h1v1h-1zM1155 481h1v1h-1zM1154 482h1v1h-1zM1154 483h1v1h-1zM1155 484h1v1h-1zM1155 485h1v1h-1zM1154 486h1v1h-1zM1154 487h1v1h-1zM1155 488h1v1h-1zM1155 489h1v1h-1zM1154 490h1v1h-1zM1154 491h1v1h-1zM1155 492h1v1h-1zM1155 493h1v1h-1zM1154 494h1v1h-1zM1154 495h1v1h-1zM1155 496h1v1h-1zM1155 497h1v1h-1zM1154 498h1v1h-1zM1154 499h1v1h-1zM1155 500h1v1h-1zM1155 501h1v1h-1zM1154 502h1v1h-1zM1154 503h1v1h-1zM1155 504h1v1h-1zM1155 505h1v1h-1zM1154 506h1v1h-1zM1154 507h1v1h-1zM1155 508h1v1h-1zM1155 509h1v1h-1zM1154 510h1v1h-1zM1154 511h1v1h-1zM1155 512h1v1h-1zM1155 513h1v1h-1zM1154 514h1v1h-1zM1154 515h1v1h-1zM1155 516h1v1h-1zM1155 517h1v1h-1zM1154 518h1v1h-1zM1154 519h1v1h-1zM1155 520h1v1h-1zM1155 521h1v1h-1zM1154 522h1v1h-1zM1154 523h1v1h-1zM1155 524h1v1h-1zM1155 525h1v1h-1zM1154 526h1v1h-1zM1154 527h1v1h-1zM1155 528h1v1h-1zM1155 529h1v1h-1zM1154 530h1v1h-1zM1154 531h1v1h-1zM1155 532h1v1h-1zM1155 533h1v1h-1zM1154 534h1v1h-1zM1154 535h1v1h-1zM1155 536h1v1h-1zM1155 537h1v1h-1zM1154 538h1v1h-1zM1154 539h1v1h-1zM1155 540h1v1h-1zM1155 541h1v1h-1zM1154 542h1v1h-1zM1154 543h1v1h-1zM1155 544h1v1h-1zM1155 545h1v1h-1zM1154 546h1v1h-1zM1154 547h1v1h-1zM1155 548h1v1h-1zM1155 549h1v1h-1zM1154 550h1v1h-1zM1154 551h1v1h-1zM1155 552h1v1h-1zM1155 553h1v1h-1zM1154 554h1v1h-1zM1154 555h1v1h-1zM1155 556h1v1h-1zM1155 557h1v1h-1zM1154 558h1v1h-1zM1154 559h1v1h-1zM1155 560h1v1h-1zM1155 561h1v1h-1zM1154 562h1v1h-1zM1154 563h1v1h-1z" fill="#000" stroke="none" stroke-width="1" class="c"/>
<rect x="108" y="75" width="228" height="6" fill="#808080" />
<rect x="108" y="75" width="6" height="187" fill="#808080" />
<rect x="330" y="75" width="6" height="177" fill="#808080" />
<rect x="108" y="256" width="221" height="6" fill="#808080" />
<rect x="108" y="75" width="4" height="1" fill="#ffffff" />
<rect x="108" y="76" width="3" height="1" fill="#ffffff" />
<rect x="108" y="77" width="1" height="1" fill="#ffffff" />
<rect x="108" y="78" width="1" height="1" fill="#ffffff" />
<rect x="332" y="75" width="4" height="1" fill="#ffffff" />
<rect x="333" y="76" width="3" height="1" fill="#ffffff" />
<rect x="335" y="77" width="1" height="1" fill="#ffffff" />
<rect x="335" y="78" width="1" height="1" fill="#ffffff" />
<rect x="108" y="261" width="4" height="1" fill="#ffffff" />
<rect x="108" y="260" width="3" height="1" fill="#ffffff" />
<rect x="108" y="259" width="1" height="1" fill="#ffffff" />
<rect x="108" y="258" width="1" height="1" fill="#ffffff" />
<rect x="328" y="254" width="8" height="1" fill="#808080" />
<rect x="329" y="255" width="7" height="1" fill="#808080" />
<rect x="329" y="256" width="7" height="4" fill="#808080" />
<rect x="329" y="260" width="2" height="1" fill="#808080" />
<rect x="334" y="260" width="2" height="1" fill="#808080" />
<rect x="329" y="261" width="1" height="1" fill="#808080" />
<rect x="335" y="261" width="1" height="1" fill="#808080" />
<rect x="707" y="83" width="2" height="1" fill="#000" />
<rect x="708" y="83" width="1" height="351" fill="#000" />
<rect x="401" y="433" width="308" height="1" fill="#000" />
<rect x="709" y="85" width="2" height="1" fill="#000" />
<rect x="710" y="85" width="1" height="351" fill="#000" />
<rect x="403" y="435" width="308" height="1" fill="#000" />
<rect x="401" y="432" width="1" height="2" fill="#000" />
<rect x="403" y="434" width="1" height="2" fill="#000" />
<rect x="399" y="81" width="308" height="1" fill="#000" />
<rect x="399" y="81" width="1" height="351" fill="#000" />
<rect x="706" y="81" width="1" height="343" fill="#000" />
<rect x="399" y="431" width="300" height="1" fill="#000" />
<rect x="698" y="423" width="1" height="9" fill="#000" />
<rect x="698" y="423" width="9" height="1" fill="#000" />
<path d="M705 424h1v1h-1zM704 425h1v1h-1zM703 426h1v1h-1zM702 427h1v1h-1zM701 428h1v1h-1zM700 429h1v1h-1zM699 430h1v1h-1z" fill="#000" stroke="none" stroke-width="1" class="c"/>
<rect x="117" y="81" width="49" height="17" fill="#fff" />
<rect x="117" y="81" width="49" height="1" fill="#000" />
<rect x="117" y="97" width="49" height="1" fill="#000" />
<rect x="117" y="81" width="1" height="17" fill="#000" />
<rect x="165" y="81" width="1" height="17" fill="#000" />
<text x="119" y="94" font-size="12" fill="#000" font-weight="normal" font-style="normal" text-anchor="start" textLength="45" lengthAdjust="spacingAndGlyphs" >SPS Start</text>
<rect x="117" y="98" width="38" height="38" fill="#0d7a0d" />
<rect x="119" y="100" width="34" height="34" fill="#eaffea" />
<rect x="120" y="101" width="32" height="32" fill="#0d7a0d" />
<rect x="121" y="102" width="30" height="30" fill="#b2b2b2" />
<rect x="128" y="127" width="17" height="7" fill="#0d7a0d" />
<rect x="129" y="128" width="15" height="7" fill="#fff" />
<rect x="128" y="134" width="1" height="2" fill="#0d7a0d" />
<rect x="144" y="134" width="1" height="2" fill="#0d7a0d" />
<rect x="130" y="129" width="5" height="1" fill="#0d7a0d" />
<rect x="132" y="129" width="1" height="5" fill="#0d7a0d" />
<rect x="137" y="129" width="4" height="1" fill="#0d7a0d" />
<rect x="137" y="129" width="1" height="5" fill="#0d7a0d" />
<rect x="137" y="131" width="3" height="1" fill="#0d7a0d" />
<rect x="122" y="110" width="28" height="15" fill="#8c8c8c" />
<rect x="123" y="111" width="26" height="13" fill="#e4e4e4" />
<text x="130" y="121" font-size="8.5" fill="#000" font-weight="bold" font-style="normal" text-anchor="start" textLength="10.5" lengthAdjust="spacingAndGlyphs" >OK</text>
<path d="M149.5 113L154 117.5L149.5 122Z" fill="#fff" stroke="#000" stroke-width="1" />
<path d="M156 117h1v1h-1zM158 117h1v1h-1zM160 117h1v1h-1zM162 117h1v1h-1zM164 117h1v1h-1zM166 117h1v1h-1zM168 117h1v1h-1zM170 117h1v1h-1zM172 117h1v1h-1zM174 117h1v1h-1z" fill="#0d7a0d" stroke="none" stroke-width="1" />
<path d="M175 117h1v1h-1zM175 119h1v1h-1zM175 121h1v1h-1zM175 123h1v1h-1zM175 125h1v1h-1zM175 127h1v1h-1zM175 129h1v1h-1zM175 131h1v1h-1zM175 133h1v1h-1zM175 135h1v1h-1zM175 137h1v1h-1zM175 139h1v1h-1zM175 141h1v1h-1zM175 143h1v1h-1zM175 145h1v1h-1zM175 147h1v1h-1zM175 149h1v1h-1zM175 151h1v1h-1zM175 153h1v1h-1zM175 155h1v1h-1zM175 157h1v1h-1zM175 159h1v1h-1zM175 161h1v1h-1zM175 163h1v1h-1zM175 165h1v1h-1zM175 167h1v1h-1zM175 169h1v1h-1zM175 171h1v1h-1zM175 173h1v1h-1zM175 175h1v1h-1zM175 177h1v1h-1zM175 179h1v1h-1zM175 181h1v1h-1zM175 183h1v1h-1zM175 185h1v1h-1zM175 187h1v1h-1zM175 189h1v1h-1z" fill="#0d7a0d" stroke="none" stroke-width="1" />
<path d="M175 190h1v1h-1zM177 190h1v1h-1zM179 190h1v1h-1zM181 190h1v1h-1zM183 190h1v1h-1zM185 190h1v1h-1zM187 190h1v1h-1zM189 190h1v1h-1zM191 190h1v1h-1zM193 190h1v1h-1zM195 190h1v1h-1zM197 190h1v1h-1zM199 190h1v1h-1zM201 190h1v1h-1zM203 190h1v1h-1zM205 190h1v1h-1zM207 190h1v1h-1zM209 190h1v1h-1zM211 190h1v1h-1zM213 190h1v1h-1zM215 190h1v1h-1zM217 190h1v1h-1zM219 190h1v1h-1zM221 190h1v1h-1zM223 190h1v1h-1zM225 190h1v1h-1zM227 190h1v1h-1zM229 190h1v1h-1zM231 190h1v1h-1z" fill="#0d7a0d" stroke="none" stroke-width="1" />
<rect x="190" y="164" width="26" height="14" fill="#fff" />
<rect x="190" y="164" width="26" height="2" fill="#0d7a0d" />
<rect x="190" y="176" width="26" height="2" fill="#0d7a0d" />
<rect x="190" y="164" width="2" height="14" fill="#0d7a0d" />
<rect x="214" y="164" width="2" height="14" fill="#0d7a0d" />
<rect x="193" y="167" width="10" height="8" fill="#0d7a0d" />
<rect x="195" y="168" width="6" height="2" fill="#fff" />
<rect x="197" y="168" width="2" height="6" fill="#fff" />
<rect x="206" y="168" width="1" height="1" fill="#0d7a0d" />
<rect x="208" y="168" width="1" height="1" fill="#0d7a0d" />
<rect x="210" y="168" width="1" height="1" fill="#0d7a0d" />
<rect x="207" y="169" width="1" height="1" fill="#0d7a0d" />
<rect x="206" y="170" width="1" height="1" fill="#0d7a0d" />
<rect x="208" y="170" width="1" height="1" fill="#0d7a0d" />
<rect x="207" y="171" width="1" height="1" fill="#0d7a0d" />
<rect x="206" y="172" width="1" height="1" fill="#0d7a0d" />
<rect x="207" y="173" width="1" height="1" fill="#0d7a0d" />
<path d="M216 171h1v1h-1zM218 171h1v1h-1zM220 171h1v1h-1zM222 171h1v1h-1zM224 171h1v1h-1zM226 171h1v1h-1z" fill="#0d7a0d" stroke="none" stroke-width="1" />
<path d="M226 171h1v1h-1zM226 173h1v1h-1zM226 175h1v1h-1zM226 177h1v1h-1zM226 179h1v1h-1z" fill="#0d7a0d" stroke="none" stroke-width="1" />
<path d="M226 180h1v1h-1zM228 180h1v1h-1zM230 180h1v1h-1z" fill="#0d7a0d" stroke="none" stroke-width="1" />
<rect x="182" y="205" width="26" height="14" fill="#fff" />
<rect x="182" y="205" width="26" height="2" fill="#0d7a0d" />
<rect x="182" y="217" width="26" height="2" fill="#0d7a0d" />
<rect x="182" y="205" width="2" height="14" fill="#0d7a0d" />
<rect x="206" y="205" width="2" height="14" fill="#0d7a0d" />
<rect x="195" y="208" width="10" height="8" fill="#0d7a0d" />
<rect x="198" y="209" width="5" height="2" fill="#fff" />
<rect x="198" y="209" width="2" height="6" fill="#fff" />
<rect x="198" y="212" width="4" height="1" fill="#fff" />
<rect x="191" y="209" width="1" height="1" fill="#0d7a0d" />
<rect x="189" y="209" width="1" height="1" fill="#0d7a0d" />
<rect x="187" y="209" width="1" height="1" fill="#0d7a0d" />
<rect x="190" y="210" width="1" height="1" fill="#0d7a0d" />
<rect x="191" y="211" width="1" height="1" fill="#0d7a0d" />
<rect x="189" y="211" width="1" height="1" fill="#0d7a0d" />
<rect x="190" y="212" width="1" height="1" fill="#0d7a0d" />
<rect x="191" y="213" width="1" height="1" fill="#0d7a0d" />
<rect x="190" y="214" width="1" height="1" fill="#0d7a0d" />
<path d="M208 212h1v1h-1zM210 212h1v1h-1zM212 212h1v1h-1zM214 212h1v1h-1zM216 212h1v1h-1zM218 212h1v1h-1zM220 212h1v1h-1zM222 212h1v1h-1zM224 212h1v1h-1zM226 212h1v1h-1zM228 212h1v1h-1zM230 212h1v1h-1z" fill="#0d7a0d" stroke="none" stroke-width="1" />
<path d="M230 200h1v1h-1zM230 202h1v1h-1zM230 204h1v1h-1zM230 206h1v1h-1zM230 208h1v1h-1zM230 210h1v1h-1zM230 212h1v1h-1z" fill="#0d7a0d" stroke="none" stroke-width="1" />
<path d="M230 199h1v1h-1zM232 199h1v1h-1z" fill="#0d7a0d" stroke="none" stroke-width="1" />
<path d="M232.5 176.5L258.5 189.5L232.5 202.5Z" fill="#fffbdc" stroke="#000" stroke-width="1" />
<path d="M234.8 180.8L242.8 189.5L234.8 198.2" fill="none" stroke="#000" stroke-width="2.1" />
<path d="M242.5 189.5H252.5" fill="none" stroke="#000" stroke-width="2.3" />
<path d="M235 187h1v1h-1zM236 187h1v1h-1zM234 188h1v1h-1zM237 188h1v1h-1zM236 189h1v1h-1zM237 189h1v1h-1zM235 190h1v1h-1zM236 190h1v1h-1zM235 191h1v1h-1zM235 193h1v1h-1z" fill="#000" stroke="none" stroke-width="1" class="c"/>
<path d="M243 184h1v1h-1zM244 184h1v1h-1zM245 184h1v1h-1zM244 185h1v1h-1zM244 186h1v1h-1z" fill="#000" stroke="none" stroke-width="1" class="c"/>
<path d="M243 192h1v1h-1zM244 192h1v1h-1zM245 192h1v1h-1zM243 193h1v1h-1zM243 194h1v1h-1zM244 194h1v1h-1zM243 195h1v1h-1z" fill="#000" stroke="none" stroke-width="1" class="c"/>
<path d="M259 189h1v1h-1zM261 189h1v1h-1zM263 189h1v1h-1zM265 189h1v1h-1z" fill="#0d7a0d" stroke="none" stroke-width="1" />
<path d="M265 189h1v1h-1zM265 191h1v1h-1zM265 193h1v1h-1zM265 195h1v1h-1zM265 197h1v1h-1zM265 199h1v1h-1zM265 201h1v1h-1zM265 203h1v1h-1zM265 205h1v1h-1zM265 207h1v1h-1zM265 209h1v1h-1zM265 211h1v1h-1zM265 213h1v1h-1zM265 215h1v1h-1zM265 217h1v1h-1zM265 219h1v1h-1zM265 221h1v1h-1zM265 223h1v1h-1zM265 225h1v1h-1zM265 227h1v1h-1zM265 229h1v1h-1zM265 231h1v1h-1zM265 233h1v1h-1zM265 235h1v1h-1zM265 237h1v1h-1zM265 239h1v1h-1zM265 241h1v1h-1zM265 243h1v1h-1z" fill="#0d7a0d" stroke="none" stroke-width="1" />
<path d="M265 199h1v1h-1zM267 199h1v1h-1zM269 199h1v1h-1zM271 199h1v1h-1zM273 199h1v1h-1zM275 199h1v1h-1zM277 199h1v1h-1zM279 199h1v1h-1z" fill="#0d7a0d" stroke="none" stroke-width="1" />
<path d="M265 244h1v1h-1zM267 244h1v1h-1zM269 244h1v1h-1zM271 244h1v1h-1zM273 244h1v1h-1zM275 244h1v1h-1zM277 244h1v1h-1zM279 244h1v1h-1zM281 244h1v1h-1zM283 244h1v1h-1zM285 244h1v1h-1zM287 244h1v1h-1zM289 244h1v1h-1zM291 244h1v1h-1zM293 244h1v1h-1zM295 244h1v1h-1zM297 244h1v1h-1zM299 244h1v1h-1zM301 244h1v1h-1zM303 244h1v1h-1zM305 244h1v1h-1zM307 244h1v1h-1zM309 244h1v1h-1z" fill="#0d7a0d" stroke="none" stroke-width="1" />
<path d="M265.5 196L268.5 199.5L265.5 203L262.5 199.5Z" fill="#0d7a0d" stroke="none" stroke-width="1" />
<rect x="265" y="198" width="1" height="1" fill="#fff" />
<rect x="264" y="199" width="1" height="1" fill="#fff" />
<rect x="266" y="199" width="1" height="1" fill="#fff" />
<rect x="265" y="200" width="1" height="1" fill="#fff" />
<rect x="279" y="163" width="51" height="17" fill="#fff" />
<rect x="279" y="163" width="51" height="1" fill="#000" />
<rect x="279" y="179" width="51" height="1" fill="#000" />
<rect x="279" y="163" width="1" height="17" fill="#000" />
<rect x="329" y="163" width="1" height="17" fill="#000" />
<text x="281.2" y="176" font-size="12" fill="#000" font-weight="normal" font-style="normal" text-anchor="start" textLength="46.8" lengthAdjust="spacingAndGlyphs" >Messung</text>
<rect x="279" y="180" width="38" height="38" fill="#0d7a0d" />
<rect x="280" y="181" width="36" height="36" fill="#eaffea" />
<rect x="282" y="183" width="32" height="32" fill="#0d7a0d" />
<rect x="283" y="184" width="30" height="30" fill="#b2b2b2" />
<rect x="290" y="209" width="16" height="6" fill="#0d7a0d" />
<rect x="291" y="210" width="14" height="7" fill="#eaffea" />
<rect x="293" y="211" width="5" height="1" fill="#0d7a0d" />
<rect x="295" y="211" width="1" height="5" fill="#0d7a0d" />
<rect x="300" y="211" width="4" height="1" fill="#0d7a0d" />
<rect x="300" y="211" width="1" height="5" fill="#0d7a0d" />
<rect x="300" y="213" width="3" height="1" fill="#0d7a0d" />
<defs><radialGradient id="led" cx="0.4" cy="0.35" r="0.7"><stop offset="0" stop-color="#7dff7d"/><stop offset="0.5" stop-color="#2fe02f"/><stop offset="1" stop-color="#18a018"/></radialGradient></defs>
<circle cx="297.5" cy="198.8" r="5.6" fill="url(#led)"/>
<path d="M281.5 195L286 199.5L281.5 204Z" fill="#fff" stroke="#000" stroke-width="1" />
<rect x="310" y="236" width="16" height="16" fill="#f2ffe0" />
<rect x="310" y="236" width="16" height="1" fill="#2a7f2a" />
<rect x="310" y="251" width="16" height="1" fill="#2a7f2a" />
<rect x="310" y="236" width="1" height="16" fill="#2a7f2a" />
<rect x="325" y="236" width="1" height="16" fill="#2a7f2a" />
<path d="M315.723 238.5L320.277 238.5L323.5 241.723L323.5 246.277L320.277 249.5L315.723 249.5L312.5 246.277L312.5 241.723Z" fill="#fff" stroke="#000" stroke-width="1" />
<path d="M316.5096 240.4L319.4904 240.4L321.6 242.5096L321.6 245.4904L319.4904 247.6L316.5096 247.6L314.4 245.4904L314.4 242.5096Z" fill="#ff0000" stroke="none" stroke-width="1" />
<rect x="118" y="236" width="16" height="16" fill="#0000c8" />
<rect x="120" y="238" width="12" height="12" fill="#fff" />
<rect x="121" y="239" width="10" height="10" fill="#ffffc8" />
<rect x="125" y="240" width="2" height="2" fill="#000090" />
<rect x="125" y="243" width="2" height="6" fill="#0000b0" />
<rect x="357" y="80" width="19" height="19" fill="#fff" />
<rect x="357" y="80" width="19" height="2" fill="#0000b8" />
<rect x="357" y="97" width="19" height="2" fill="#0000b8" />
<rect x="357" y="80" width="2" height="19" fill="#0000b8" />
<rect x="374" y="80" width="2" height="19" fill="#0000b8" />
<text x="360" y="94" font-size="12" fill="#000" font-weight="normal" font-style="normal" text-anchor="start" textLength="11.5" lengthAdjust="spacingAndGlyphs" >10</text>
<rect x="376" y="89" width="23" height="1" fill="#0000b8" />
<rect x="399" y="81" width="16" height="16" fill="#fff" />
<rect x="399" y="81" width="16" height="2" fill="#0000b8" />
<rect x="399" y="95" width="16" height="2" fill="#0000b8" />
<rect x="399" y="81" width="2" height="16" fill="#0000b8" />
<rect x="413" y="81" width="2" height="16" fill="#0000b8" />
<path d="M403 84h1v1h-1zM404 84h1v1h-1zM409 84h1v1h-1zM410 84h1v1h-1zM403 85h1v1h-1zM404 85h1v1h-1zM405 85h1v1h-1zM409 85h1v1h-1zM410 85h1v1h-1zM403 86h1v1h-1zM404 86h1v1h-1zM405 86h1v1h-1zM406 86h1v1h-1zM409 86h1v1h-1zM410 86h1v1h-1zM403 87h1v1h-1zM404 87h1v1h-1zM406 87h1v1h-1zM407 87h1v1h-1zM409 87h1v1h-1zM410 87h1v1h-1zM403 88h1v1h-1zM404 88h1v1h-1zM406 88h1v1h-1zM407 88h1v1h-1zM409 88h1v1h-1zM410 88h1v1h-1zM403 89h1v1h-1zM404 89h1v1h-1zM407 89h1v1h-1zM408 89h1v1h-1zM409 89h1v1h-1zM410 89h1v1h-1zM403 90h1v1h-1zM404 90h1v1h-1zM408 90h1v1h-1zM409 90h1v1h-1zM410 90h1v1h-1zM403 91h1v1h-1zM404 91h1v1h-1zM409 91h1v1h-1zM410 91h1v1h-1zM403 92h1v1h-1zM404 92h1v1h-1zM409 92h1v1h-1zM410 92h1v1h-1z" fill="#0000c0" stroke="none" stroke-width="1" class="c"/>
<path d="M424.5 119.5L428.5 115.5L439.5 115.5L435.5 119.5Z" fill="#fffbd2" stroke="#000" stroke-width="1" />
<path d="M435.5 119.5L439.5 115.5L439.5 126.5L435.5 130.5Z" fill="#fffbd2" stroke="#000" stroke-width="1" />
<path d="M424.5 119.5L435.5 119.5L435.5 130.5L424.5 130.5Z" fill="#fffbd2" stroke="#000" stroke-width="1" />
<rect x="427" y="122" width="2" height="2" fill="#000" />
<rect x="428" y="117" width="3" height="1" fill="#000" />
<rect x="432" y="117" width="3" height="1" fill="#000" />
<rect x="436" y="117" width="1" height="1" fill="#000" />
<rect x="437" y="116" width="1" height="1" fill="#000" />
<path d="M428.5 125.5L432.5 121.5L442.5 121.5L438.5 125.5Z" fill="#fffbd2" stroke="#000" stroke-width="1" />
<path d="M438.5 125.5L442.5 121.5L442.5 131.5L438.5 135.5Z" fill="#fffbd2" stroke="#000" stroke-width="1" />
<path d="M428.5 125.5L438.5 125.5L438.5 135.5L428.5 135.5Z" fill="#fffbd2" stroke="#000" stroke-width="1" />
<rect x="434" y="128" width="2" height="2" fill="#000" />
<rect x="431" y="131" width="2" height="2" fill="#000" />
<rect x="440" y="127" width="1" height="2" fill="#000" />
<rect x="431" y="123" width="3" height="1" fill="#000" />
<rect x="435" y="123" width="3" height="1" fill="#000" />
<rect x="439" y="123" width="1" height="1" fill="#000" />
<rect x="440" y="122" width="1" height="1" fill="#000" />
<path d="M419.5 154.5L423.5 150.5L434.5 150.5L430.5 154.5Z" fill="#fffbd2" stroke="#000" stroke-width="1" />
<path d="M430.5 154.5L434.5 150.5L434.5 161.5L430.5 165.5Z" fill="#fffbd2" stroke="#000" stroke-width="1" />
<path d="M419.5 154.5L430.5 154.5L430.5 165.5L419.5 165.5Z" fill="#fffbd2" stroke="#000" stroke-width="1" />
<rect x="422" y="157" width="2" height="2" fill="#000" />
<rect x="423" y="152" width="3" height="1" fill="#000" />
<rect x="427" y="152" width="3" height="1" fill="#000" />
<rect x="431" y="152" width="1" height="1" fill="#000" />
<rect x="432" y="151" width="1" height="1" fill="#000" />
<path d="M423.5 160.5L427.5 156.5L437.5 156.5L433.5 160.5Z" fill="#fffbd2" stroke="#000" stroke-width="1" />
<path d="M433.5 160.5L437.5 156.5L437.5 166.5L433.5 170.5Z" fill="#fffbd2" stroke="#000" stroke-width="1" />
<path d="M423.5 160.5L433.5 160.5L433.5 170.5L423.5 170.5Z" fill="#fffbd2" stroke="#000" stroke-width="1" />
<rect x="429" y="163" width="2" height="2" fill="#000" />
<rect x="426" y="166" width="2" height="2" fill="#000" />
<rect x="435" y="162" width="1" height="2" fill="#000" />
<rect x="426" y="158" width="3" height="1" fill="#000" />
<rect x="430" y="158" width="3" height="1" fill="#000" />
<rect x="434" y="158" width="1" height="1" fill="#000" />
<rect x="435" y="157" width="1" height="1" fill="#000" />
<rect x="443" y="125" width="7" height="1" fill="#e08a3a" />
<rect x="449" y="125" width="1" height="12" fill="#e08a3a" />
<rect x="449" y="136" width="12" height="1" fill="#e08a3a" />
<rect x="438" y="160" width="18" height="1" fill="#e08a3a" />
<rect x="455" y="146" width="1" height="15" fill="#e08a3a" />
<rect x="455" y="146" width="6" height="1" fill="#e08a3a" />
<rect x="482" y="141" width="9" height="1" fill="#e08a3a" />
<rect x="490" y="124" width="1" height="104" fill="#e08a3a" />
<rect x="490" y="124" width="15" height="1" fill="#e08a3a" />
<rect x="490" y="227" width="38" height="1" fill="#e08a3a" />
<circle cx="490.5" cy="141.5" r="2.7" fill="#ff8000"/>
<path d="M461.5 131.5L481.5 141.5L461.5 151.5Z" fill="#fffbd2" stroke="#000" stroke-width="1" />
<rect x="465" y="141" width="6" height="1" fill="#000" />
<rect x="467" y="139" width="2" height="5" fill="#000" />
<rect x="505" y="88" width="72" height="17" fill="#fff" />
<rect x="505" y="88" width="72" height="1" fill="#000" />
<rect x="505" y="104" width="72" height="1" fill="#000" />
<rect x="505" y="88" width="1" height="17" fill="#000" />
<rect x="576" y="88" width="1" height="17" fill="#000" />
<text x="506.7" y="101" font-size="12" fill="#000" font-weight="normal" font-style="normal" text-anchor="start" textLength="67.8" lengthAdjust="spacingAndGlyphs" >Wert (0 bis 1)</text>
<rect x="505" y="105" width="38" height="38" fill="#e8872a" />
<rect x="506" y="106" width="36" height="36" fill="#fff0e0" />
<rect x="508" y="108" width="32" height="32" fill="#e8872a" />
<rect x="509" y="109" width="30" height="30" fill="#f0a860" />
<rect x="510" y="110" width="28" height="28" fill="#b2b2b2" />
<rect x="516" y="134" width="16" height="6" fill="#e8872a" />
<rect x="517" y="135" width="14" height="7" fill="#fff0e0" />
<path d="M518 136h1v1h-1zM519 136h1v1h-1zM520 136h1v1h-1zM522 136h1v1h-1zM524 136h1v1h-1zM526 136h1v1h-1zM527 136h1v1h-1zM528 136h1v1h-1zM518 137h1v1h-1zM522 137h1v1h-1zM524 137h1v1h-1zM527 137h1v1h-1zM518 138h1v1h-1zM519 138h1v1h-1zM523 138h1v1h-1zM527 138h1v1h-1zM518 139h1v1h-1zM522 139h1v1h-1zM524 139h1v1h-1zM527 139h1v1h-1zM518 140h1v1h-1zM519 140h1v1h-1zM520 140h1v1h-1zM522 140h1v1h-1zM524 140h1v1h-1zM527 140h1v1h-1z" fill="#e8872a" stroke="none" stroke-width="1" class="c"/>
<rect x="514" y="117" width="20" height="12" fill="#9a9a9a" />
<rect x="516" y="119" width="18" height="10" fill="#fff" />
<rect x="515" y="118" width="19" height="1" fill="#aeaeae" />
<rect x="515" y="118" width="1" height="11" fill="#aeaeae" />
<rect x="514" y="129" width="20" height="0" fill="#b2b2b2" />
<text x="516.5" y="127.6" font-size="10" fill="#000" font-weight="normal" font-style="normal" text-anchor="start" textLength="15" lengthAdjust="spacingAndGlyphs" stroke="#000" stroke-width="0.35">1.23</text>
<path d="M507.5 120L512 124.5L507.5 129Z" fill="#fff" stroke="#000" stroke-width="1" />
<rect x="528" y="155" width="96" height="104" fill="#cce5ff" />
<rect x="528" y="155" width="96" height="1" fill="#4a78d2" />
<rect x="528" y="258" width="96" height="1" fill="#4a78d2" />
<rect x="528" y="155" width="1" height="104" fill="#4a78d2" />
<rect x="623" y="155" width="1" height="104" fill="#4a78d2" />
<rect x="529" y="221" width="94" height="14" fill="#fff" />
<rect x="529" y="236" width="94" height="13" fill="#fff" />
<rect x="528" y="220" width="96" height="1" fill="#4a78d2" />
<rect x="528" y="235" width="96" height="1" fill="#4a78d2" />
<rect x="528" y="249" width="96" height="1" fill="#4a78d2" />
<text x="533.2" y="216" font-size="12" fill="#101018" font-weight="normal" font-style="normal" text-anchor="start" textLength="84.3" lengthAdjust="spacingAndGlyphs" >Tabelle erstellen</text>
<text x="558.5" y="233" font-size="12" fill="#1a1a78" font-weight="normal" font-style="normal" text-anchor="start" textLength="37.5" lengthAdjust="spacingAndGlyphs" >Signale</text>
<text x="555.6" y="247.5" font-size="12" fill="#c42cc4" font-weight="normal" font-style="normal" text-anchor="start" textLength="37.5" lengthAdjust="spacingAndGlyphs" >Tabelle</text>
<rect x="528" y="235" width="96" height="1" fill="#4a78d2" />
<path d="M530 168h1v1h-1zM530 169h1v1h-1zM531 169h1v1h-1zM530 170h1v1h-1zM531 170h1v1h-1zM532 170h1v1h-1zM530 171h1v1h-1zM531 171h1v1h-1zM530 172h1v1h-1z" fill="#0d7a0d" stroke="none" stroke-width="1" class="c"/>
<path d="M530 177h1v1h-1zM530 178h1v1h-1zM531 178h1v1h-1zM530 179h1v1h-1zM531 179h1v1h-1zM532 179h1v1h-1zM530 180h1v1h-1zM531 180h1v1h-1zM530 181h1v1h-1z" fill="#0d7a0d" stroke="none" stroke-width="1" class="c"/>
<path d="M530 186h1v1h-1zM530 187h1v1h-1zM531 187h1v1h-1zM530 188h1v1h-1zM531 188h1v1h-1zM532 188h1v1h-1zM530 189h1v1h-1zM531 189h1v1h-1zM530 190h1v1h-1z" fill="#e020e0" stroke="none" stroke-width="1" class="c"/>
<path d="M530 195h1v1h-1zM530 196h1v1h-1zM531 196h1v1h-1zM530 197h1v1h-1zM531 197h1v1h-1zM532 197h1v1h-1zM530 198h1v1h-1zM531 198h1v1h-1zM530 199h1v1h-1z" fill="#0d7a0d" stroke="none" stroke-width="1" class="c"/>
<path d="M619 196h1v1h-1zM619 197h1v1h-1zM620 197h1v1h-1zM619 198h1v1h-1zM620 198h1v1h-1zM621 198h1v1h-1zM619 199h1v1h-1zM620 199h1v1h-1zM619 200h1v1h-1z" fill="#e020e0" stroke="none" stroke-width="1" class="c"/>
<path d="M529 225h1v1h-1zM530 225h1v1h-1zM529 226h1v1h-1zM530 226h1v1h-1zM531 226h1v1h-1zM529 227h1v1h-1zM530 227h1v1h-1zM531 227h1v1h-1zM532 227h1v1h-1zM529 228h1v1h-1zM530 228h1v1h-1zM531 228h1v1h-1zM529 229h1v1h-1zM530 229h1v1h-1z" fill="#202020" stroke="none" stroke-width="1" class="c"/>
<path d="M619 240h1v1h-1zM619 241h1v1h-1zM620 241h1v1h-1zM619 242h1v1h-1zM620 242h1v1h-1zM621 242h1v1h-1zM619 243h1v1h-1zM620 243h1v1h-1zM621 243h1v1h-1zM619 244h1v1h-1zM620 244h1v1h-1zM619 245h1v1h-1z" fill="#000" stroke="none" stroke-width="1" class="c"/>
<path d="M571.5 250.5L576.5 254.5L581.5 250.5M572.5 253.5L576.5 257L580.5 253.5" fill="none" stroke="#7f9fd8" stroke-width="1" />
<rect x="560.5" y="163.5" width="31" height="31" rx="3" fill="#c4c4c4" stroke="#000"/>
<linearGradient id="ig" x1="0" x2="1"><stop offset="0" stop-color="#e8e8e8"/><stop offset="1" stop-color="#8c8c8c"/></linearGradient>
<rect x="561" y="166" width="30" height="28" fill="url(#ig)" />
<rect x="562" y="164" width="28" height="2" fill="#0000d0" />
<rect x="561" y="165" width="30" height="1" fill="#0000d0" />
<rect x="563" y="167" width="26" height="25" fill="#000" />
<rect x="564" y="168" width="5" height="5" fill="#c8c8c8" />
<rect x="570" y="168" width="5" height="5" fill="#c8c8c8" />
<rect x="576" y="168" width="5" height="5" fill="#c8c8c8" />
<rect x="582" y="168" width="6" height="5" fill="#c8c8c8" />
<rect x="564" y="174" width="5" height="5" fill="#fff" />
<rect x="570" y="174" width="5" height="5" fill="#fff" />
<rect x="576" y="174" width="5" height="5" fill="#fff" />
<rect x="582" y="174" width="6" height="5" fill="#fff" />
<rect x="564" y="180" width="5" height="5" fill="#fff" />
<rect x="570" y="180" width="5" height="5" fill="#fff" />
<rect x="576" y="180" width="5" height="5" fill="#fff" />
<rect x="582" y="180" width="6" height="5" fill="#fff" />
<rect x="564" y="186" width="5" height="5" fill="#fff" />
<rect x="570" y="186" width="5" height="5" fill="#fff" />
<rect x="576" y="186" width="5" height="5" fill="#fff" />
<rect x="582" y="186" width="6" height="5" fill="#fff" />
<rect x="565" y="169" width="3" height="3" fill="#000" />
<rect x="566" y="170" width="1" height="1" fill="#c8c8c8" />
<rect x="571" y="169" width="3" height="3" fill="#000" />
<rect x="572" y="170" width="1" height="1" fill="#c8c8c8" />
<rect x="577" y="169" width="3" height="3" fill="#000" />
<rect x="578" y="170" width="1" height="1" fill="#c8c8c8" />
<rect x="583" y="169" width="3" height="3" fill="#000" />
<rect x="584" y="170" width="1" height="1" fill="#c8c8c8" />
<rect x="624" y="218" width="28" height="4" fill="#d820d8" />
<path d="M624 220h1v1h-1zM626 219h1v1h-1zM628 220h1v1h-1zM630 219h1v1h-1zM632 220h1v1h-1zM634 219h1v1h-1zM636 220h1v1h-1zM638 219h1v1h-1zM640 220h1v1h-1zM642 219h1v1h-1zM644 220h1v1h-1zM646 219h1v1h-1zM648 220h1v1h-1zM650 219h1v1h-1z" fill="#fff" stroke="none" stroke-width="1" class="c"/>
<rect x="652" y="184" width="41" height="17" fill="#fff" />
<rect x="652" y="184" width="41" height="1" fill="#000" />
<rect x="652" y="200" width="41" height="1" fill="#000" />
<rect x="652" y="184" width="1" height="17" fill="#000" />
<rect x="692" y="184" width="1" height="17" fill="#000" />
<text x="654.4" y="197" font-size="12" fill="#000" font-weight="normal" font-style="normal" text-anchor="start" textLength="36.6" lengthAdjust="spacingAndGlyphs" >Tabelle</text>
<rect x="652" y="201" width="38" height="38" fill="#c428c4" />
<rect x="653" y="202" width="36" height="36" fill="#ffd8ff" />
<rect x="655" y="204" width="32" height="32" fill="#c428c4" />
<rect x="656" y="205" width="30" height="30" fill="#e878e8" />
<rect x="657" y="206" width="28" height="28" fill="#b2b2b2" />
<rect x="663" y="230" width="17" height="6" fill="#c428c4" />
<rect x="664" y="231" width="15" height="7" fill="#ffd8ff" />
<text x="665" y="237" font-size="8" fill="#c428c4" font-weight="bold" font-style="normal" text-anchor="start" textLength="13" lengthAdjust="spacingAndGlyphs" >abc</text>
<rect x="657" y="207" width="28" height="24" fill="#6e6e6e" />
<rect x="658" y="209" width="7" height="7" fill="#d6d6d6" />
<rect x="666" y="209" width="9" height="7" fill="#d6d6d6" />
<rect x="676" y="209" width="9" height="7" fill="#d6d6d6" />
<rect x="658" y="217" width="7" height="7" fill="#d6d6d6" />
<rect x="666" y="217" width="9" height="7" fill="#d6d6d6" />
<rect x="676" y="217" width="9" height="7" fill="#d6d6d6" />
<rect x="658" y="225" width="7" height="7" fill="#d6d6d6" />
<rect x="666" y="225" width="9" height="7" fill="#d6d6d6" />
<rect x="676" y="225" width="9" height="7" fill="#d6d6d6" />
<rect x="658" y="216" width="27" height="1" fill="#000" />
<rect x="658" y="224" width="27" height="1" fill="#000" />
<rect x="665" y="209" width="1" height="23" fill="#000" />
<rect x="675" y="209" width="1" height="23" fill="#000" />
<path d="M660 210h1v1h-1zM661 210h1v1h-1zM662 210h1v1h-1zM659 211h1v1h-1zM663 211h1v1h-1zM659 212h1v1h-1zM660 212h1v1h-1zM661 212h1v1h-1zM662 212h1v1h-1zM663 212h1v1h-1zM659 213h1v1h-1zM663 213h1v1h-1zM659 214h1v1h-1zM663 214h1v1h-1z" fill="#000" stroke="none" stroke-width="1" class="c"/>
<path d="M668 210h1v1h-1zM669 210h1v1h-1zM670 210h1v1h-1zM671 210h1v1h-1zM668 211h1v1h-1zM672 211h1v1h-1zM668 212h1v1h-1zM669 212h1v1h-1zM670 212h1v1h-1zM671 212h1v1h-1zM668 213h1v1h-1zM672 213h1v1h-1zM668 214h1v1h-1zM669 214h1v1h-1zM670 214h1v1h-1zM671 214h1v1h-1z" fill="#000" stroke="none" stroke-width="1" class="c"/>
<path d="M679 210h1v1h-1zM680 210h1v1h-1zM681 210h1v1h-1zM678 211h1v1h-1zM682 211h1v1h-1zM678 212h1v1h-1zM678 213h1v1h-1zM682 213h1v1h-1zM679 214h1v1h-1zM680 214h1v1h-1zM681 214h1v1h-1z" fill="#000" stroke="none" stroke-width="1" class="c"/>
<rect x="661" y="218" width="1" height="1" fill="#000" />
<rect x="661" y="220" width="1" height="1" fill="#000" />
<rect x="661" y="222" width="1" height="1" fill="#000" />
<rect x="670" y="218" width="1" height="1" fill="#000" />
<rect x="670" y="220" width="1" height="1" fill="#000" />
<rect x="670" y="222" width="1" height="1" fill="#000" />
<rect x="680" y="218" width="1" height="1" fill="#000" />
<rect x="680" y="220" width="1" height="1" fill="#000" />
<rect x="680" y="222" width="1" height="1" fill="#000" />
<path d="M659 226h1v1h-1zM663 226h1v1h-1zM660 227h1v1h-1zM662 227h1v1h-1zM661 228h1v1h-1zM660 229h1v1h-1zM662 229h1v1h-1zM659 230h1v1h-1zM663 230h1v1h-1z" fill="#000" stroke="none" stroke-width="1" class="c"/>
<path d="M668 226h1v1h-1zM672 226h1v1h-1zM669 227h1v1h-1zM671 227h1v1h-1zM670 228h1v1h-1zM670 229h1v1h-1zM670 230h1v1h-1z" fill="#000" stroke="none" stroke-width="1" class="c"/>
<path d="M678 226h1v1h-1zM679 226h1v1h-1zM680 226h1v1h-1zM681 226h1v1h-1zM682 226h1v1h-1zM681 227h1v1h-1zM680 228h1v1h-1zM679 229h1v1h-1zM678 230h1v1h-1zM679 230h1v1h-1zM680 230h1v1h-1zM681 230h1v1h-1zM682 230h1v1h-1z" fill="#000" stroke="none" stroke-width="1" class="c"/>
<rect x="663" y="231" width="17" height="6" fill="#c428c4" />
<rect x="664" y="232" width="15" height="6" fill="#ffe6ff" />
<path d="M666 232h1v1h-1zM667 232h1v1h-1zM670 232h1v1h-1zM676 232h1v1h-1zM677 232h1v1h-1zM668 233h1v1h-1zM670 233h1v1h-1zM675 233h1v1h-1zM666 234h1v1h-1zM667 234h1v1h-1zM668 234h1v1h-1zM670 234h1v1h-1zM671 234h1v1h-1zM672 234h1v1h-1zM675 234h1v1h-1zM665 235h1v1h-1zM668 235h1v1h-1zM670 235h1v1h-1zM673 235h1v1h-1zM675 235h1v1h-1zM666 236h1v1h-1zM667 236h1v1h-1zM668 236h1v1h-1zM670 236h1v1h-1zM671 236h1v1h-1zM672 236h1v1h-1zM676 236h1v1h-1zM677 236h1v1h-1z" fill="#c428c4" stroke="none" stroke-width="1" class="c"/>
<path d="M654.5 216L659 220.5L654.5 225Z" fill="#fff" stroke="#000" stroke-width="1" />
<rect x="411" y="399" width="16" height="16" fill="#0000c8" />
<rect x="413" y="401" width="12" height="12" fill="#fff" />
<rect x="414" y="402" width="10" height="10" fill="#ffffc8" />
<rect x="418" y="403" width="2" height="2" fill="#000090" />
<rect x="418" y="406" width="2" height="6" fill="#0000b0" />
<rect x="427" y="407" width="25" height="1" fill="#0000b8" />
<rect x="452" y="370" width="45" height="17" fill="#fff" />
<rect x="452" y="370" width="45" height="1" fill="#000" />
<rect x="452" y="386" width="45" height="1" fill="#000" />
<rect x="452" y="370" width="1" height="17" fill="#000" />
<rect x="496" y="370" width="1" height="17" fill="#000" />
<text x="453.7" y="383" font-size="12" fill="#000" font-weight="normal" font-style="normal" text-anchor="start" textLength="32.8" lengthAdjust="spacingAndGlyphs" >Zähler</text>
<rect x="452" y="387" width="38" height="38" fill="#0000b8" />
<rect x="453" y="388" width="36" height="36" fill="#fff" />
<rect x="455" y="390" width="32" height="32" fill="#0000b8" />
<rect x="456" y="391" width="30" height="30" fill="#9a9aff" />
<rect x="457" y="392" width="28" height="28" fill="#b2b2b2" />
<rect x="463" y="416" width="17" height="6" fill="#0000b8" />
<rect x="464" y="417" width="15" height="7" fill="#fff" />
<path d="M466 418h1v1h-1zM467 418h1v1h-1zM468 418h1v1h-1zM470 418h1v1h-1zM471 418h1v1h-1zM472 418h1v1h-1zM474 418h1v1h-1zM475 418h1v1h-1zM476 418h1v1h-1zM467 419h1v1h-1zM472 419h1v1h-1zM476 419h1v1h-1zM467 420h1v1h-1zM470 420h1v1h-1zM471 420h1v1h-1zM472 420h1v1h-1zM474 420h1v1h-1zM475 420h1v1h-1zM476 420h1v1h-1zM467 421h1v1h-1zM472 421h1v1h-1zM474 421h1v1h-1zM466 422h1v1h-1zM467 422h1v1h-1zM468 422h1v1h-1zM470 422h1v1h-1zM471 422h1v1h-1zM472 422h1v1h-1zM474 422h1v1h-1zM475 422h1v1h-1zM476 422h1v1h-1z" fill="#0000b8" stroke="none" stroke-width="1" class="c"/>
<rect x="461" y="399" width="20" height="12" fill="#9a9a9a" />
<rect x="463" y="401" width="18" height="10" fill="#fff" />
<rect x="462" y="400" width="19" height="1" fill="#aeaeae" />
<rect x="462" y="400" width="1" height="11" fill="#aeaeae" />
<rect x="461" y="411" width="20" height="0" fill="#b2b2b2" />
<text x="463.5" y="409.6" font-size="10" fill="#000" font-weight="normal" font-style="normal" text-anchor="start" textLength="15" lengthAdjust="spacingAndGlyphs" stroke="#000" stroke-width="0.35">1.23</text>
<path d="M454.5 402L459 406.5L454.5 411Z" fill="#fff" stroke="#000" stroke-width="1" />
<defs><linearGradient id="btn" x1="0" y1="0" x2="1" y2="1"><stop offset="0" stop-color="#ffffff"/><stop offset="0.55" stop-color="#f4f4f4"/><stop offset="1" stop-color="#d4d4d4"/></linearGradient></defs>
<rect x="32" y="24" width="22" height="21" fill="#5a5a5a" />
<rect x="33" y="25" width="20" height="19" fill="#ffffff" />
<rect x="34" y="26" width="19" height="18" fill="url(#btn)"/>
<rect x="33" y="42" width="20" height="2" fill="#b4b4b4" />
<rect x="51" y="25" width="2" height="19" fill="#b4b4b4" />
<rect x="33" y="43" width="20" height="1" fill="#8c8c8c" />
<rect x="52" y="25" width="1" height="19" fill="#8c8c8c" />
<rect x="53" y="24" width="22" height="21" fill="#5a5a5a" />
<rect x="54" y="25" width="20" height="19" fill="#ffffff" />
<rect x="55" y="26" width="19" height="18" fill="url(#btn)"/>
<rect x="54" y="42" width="20" height="2" fill="#b4b4b4" />
<rect x="72" y="25" width="2" height="19" fill="#b4b4b4" />
<rect x="54" y="43" width="20" height="1" fill="#8c8c8c" />
<rect x="73" y="25" width="1" height="19" fill="#8c8c8c" />
<rect x="79" y="24" width="22" height="21" fill="#f2f2f2" />
<rect x="79" y="24" width="22" height="1" fill="#c6c6c6" />
<rect x="79" y="44" width="22" height="1" fill="#c6c6c6" />
<rect x="79" y="24" width="1" height="21" fill="#c6c6c6" />
<rect x="100" y="24" width="1" height="21" fill="#c6c6c6" />
<rect x="100" y="24" width="22" height="21" fill="#5a5a5a" />
<rect x="101" y="25" width="20" height="19" fill="#ffffff" />
<rect x="102" y="26" width="19" height="18" fill="url(#btn)"/>
<rect x="101" y="42" width="20" height="2" fill="#b4b4b4" />
<rect x="119" y="25" width="2" height="19" fill="#b4b4b4" />
<rect x="101" y="43" width="20" height="1" fill="#8c8c8c" />
<rect x="120" y="25" width="1" height="19" fill="#8c8c8c" />
<rect x="126" y="24" width="22" height="21" fill="#5a5a5a" />
<rect x="127" y="25" width="20" height="19" fill="#ffffff" />
<rect x="128" y="26" width="19" height="18" fill="url(#btn)"/>
<rect x="127" y="42" width="20" height="2" fill="#b4b4b4" />
<rect x="145" y="25" width="2" height="19" fill="#b4b4b4" />
<rect x="127" y="43" width="20" height="1" fill="#8c8c8c" />
<rect x="146" y="25" width="1" height="19" fill="#8c8c8c" />
<rect x="152" y="24" width="22" height="21" fill="#5a5a5a" />
<rect x="153" y="25" width="20" height="19" fill="#ffffff" />
<rect x="154" y="26" width="19" height="18" fill="url(#btn)"/>
<rect x="153" y="42" width="20" height="2" fill="#b4b4b4" />
<rect x="171" y="25" width="2" height="19" fill="#b4b4b4" />
<rect x="153" y="43" width="20" height="1" fill="#8c8c8c" />
<rect x="172" y="25" width="1" height="19" fill="#8c8c8c" />
<rect x="173" y="24" width="22" height="21" fill="#5a5a5a" />
<rect x="174" y="25" width="20" height="19" fill="#ffffff" />
<rect x="175" y="26" width="19" height="18" fill="url(#btn)"/>
<rect x="174" y="42" width="20" height="2" fill="#b4b4b4" />
<rect x="192" y="25" width="2" height="19" fill="#b4b4b4" />
<rect x="174" y="43" width="20" height="1" fill="#8c8c8c" />
<rect x="193" y="25" width="1" height="19" fill="#8c8c8c" />
<rect x="195" y="24" width="21" height="21" fill="#f2f2f2" />
<rect x="195" y="24" width="21" height="1" fill="#c6c6c6" />
<rect x="195" y="44" width="21" height="1" fill="#c6c6c6" />
<rect x="195" y="24" width="1" height="21" fill="#c6c6c6" />
<rect x="215" y="24" width="1" height="21" fill="#c6c6c6" />
<rect x="219" y="24" width="173" height="21" fill="#5a5a5a" />
<rect x="220" y="25" width="171" height="19" fill="#ffffff" />
<rect x="221" y="26" width="170" height="18" fill="url(#btn)"/>
<rect x="220" y="42" width="171" height="2" fill="#b4b4b4" />
<rect x="389" y="25" width="2" height="19" fill="#b4b4b4" />
<rect x="220" y="43" width="171" height="1" fill="#8c8c8c" />
<rect x="390" y="25" width="1" height="19" fill="#8c8c8c" />
<rect x="395" y="24" width="34" height="21" fill="#5a5a5a" />
<rect x="396" y="25" width="32" height="19" fill="#ffffff" />
<rect x="397" y="26" width="31" height="18" fill="url(#btn)"/>
<rect x="396" y="42" width="32" height="2" fill="#b4b4b4" />
<rect x="426" y="25" width="2" height="19" fill="#b4b4b4" />
<rect x="396" y="43" width="32" height="1" fill="#8c8c8c" />
<rect x="427" y="25" width="1" height="19" fill="#8c8c8c" />
<rect x="431" y="24" width="34" height="21" fill="#5a5a5a" />
<rect x="432" y="25" width="32" height="19" fill="#ffffff" />
<rect x="433" y="26" width="31" height="18" fill="url(#btn)"/>
<rect x="432" y="42" width="32" height="2" fill="#b4b4b4" />
<rect x="462" y="25" width="2" height="19" fill="#b4b4b4" />
<rect x="432" y="43" width="32" height="1" fill="#8c8c8c" />
<rect x="463" y="25" width="1" height="19" fill="#8c8c8c" />
<rect x="470" y="24" width="34" height="21" fill="#5a5a5a" />
<rect x="471" y="25" width="32" height="19" fill="#ffffff" />
<rect x="472" y="26" width="31" height="18" fill="url(#btn)"/>
<rect x="471" y="42" width="32" height="2" fill="#b4b4b4" />
<rect x="501" y="25" width="2" height="19" fill="#b4b4b4" />
<rect x="471" y="43" width="32" height="1" fill="#8c8c8c" />
<rect x="502" y="25" width="1" height="19" fill="#8c8c8c" />
<rect x="1305" y="24" width="22" height="21" fill="#5a5a5a" />
<rect x="1306" y="25" width="20" height="19" fill="#ffffff" />
<rect x="1307" y="26" width="19" height="18" fill="url(#btn)"/>
<rect x="1306" y="42" width="20" height="2" fill="#b4b4b4" />
<rect x="1324" y="25" width="2" height="19" fill="#b4b4b4" />
<rect x="1306" y="43" width="20" height="1" fill="#8c8c8c" />
<rect x="1325" y="25" width="1" height="19" fill="#8c8c8c" />
<path d="M37.5 32.5H41.5V28.8L47.6 34.5L41.5 40.2V36.5H37.5Z" fill="#fff" stroke="#000" stroke-width="1.3" />
<path d="M59.8 28.2H67L70 30.6V33.5H72.3L68 37.3L63.7 33.5H66V31.6L65 31H62.8Z" fill="#fff" stroke="#000" stroke-width="1.1" />
<path d="M59.8 28.2H67L70 30.6V33.5H72.3L68 37.3L63.7 33.5H66V31.6L65 31H62.8Z" fill="#fff" stroke="#000" stroke-width="1.1" transform="rotate(180 64 34.6)"/>
<path d="M86.5192 27.3L92.4808 27.3L96.7 31.5192L96.7 37.4808L92.4808 41.7L86.5192 41.7L82.3 37.4808L82.3 31.5192Z" fill="#f2f2f2" stroke="#9a9a9a" stroke-width="1" />
<path d="M87.1816 28.9L91.8184 28.9L95.1 32.1816L95.1 36.8184L91.8184 40.1L87.1816 40.1L83.9 36.8184L83.9 32.1816Z" fill="#f08888" stroke="none" stroke-width="1" />
<rect x="106" y="29" width="4" height="10" fill="#000" />
<rect x="112" y="29" width="4" height="10" fill="#000" />
<path d="M136.5 27.5C133 27.5 131.5 30 131.5 32C131.5 34.5 134 35.5 134.5 38.5H138.5C139 35.5 141.5 34.5 141.5 32C141.5 30 140 27.5 136.5 27.5Z" fill="#fff" stroke="#000" stroke-width="1" />
<path d="M134.5 31L136.5 33.5L138.5 31M136.5 33.5V38" fill="none" stroke="#000" stroke-width="0.8" />
<rect x="134" y="39" width="5" height="1" fill="#d8a000" />
<rect x="134" y="41" width="5" height="1" fill="#d8a000" />
<rect x="135" y="43" width="3" height="1" fill="#d8a000" />
<rect x="134" y="40" width="5" height="1" fill="#ffe060" />
<rect x="134" y="42" width="5" height="1" fill="#ffe060" />
<path d="M155.5 28V37.5H159" fill="none" stroke="#000" stroke-width="1.6" />
<path d="M158.5 34L162.5 37.5L158.5 41Z" fill="#404040" stroke="#000" stroke-width="0.8" />
<rect x="163" y="35" width="6" height="6" fill="#000" />
<rect x="164" y="36" width="4" height="4" fill="#ffff90" />
<rect x="169" y="36" width="1" height="6" fill="#000" />
<rect x="164" y="41" width="6" height="1" fill="#000" />
<path d="M177.5 40V31.5H187" fill="none" stroke="#000" stroke-width="1.6" />
<path d="M186 27.5L191 31.5L186 35.5Z" fill="#404040" stroke="#000" stroke-width="0.8" />
<rect x="177" y="30" width="9" height="3" fill="#404040" />
<rect x="180" y="35" width="7" height="7" fill="#000" />
<rect x="181" y="36" width="5" height="5" fill="#ffff90" />
<rect x="187" y="36" width="1" height="7" fill="#000" />
<rect x="181" y="42" width="7" height="1" fill="#000" />
<rect x="198" y="35" width="6" height="6" fill="#c8c8b0" />
<rect x="199" y="36" width="4" height="4" fill="#f4f4c8" />
<path d="M204 38.5H209.5V32" fill="none" stroke="#bcbcbc" stroke-width="2" />
<path d="M205.5 32.5L209.5 27.5L213.5 32.5Z" fill="#c4c4c4" stroke="none" stroke-width="1" />
<text x="224.6" y="38.5" font-size="12" fill="#111" font-weight="normal" font-style="normal" text-anchor="start" textLength="143.5" lengthAdjust="spacingAndGlyphs" >15pt Anwendungsschriftart</text>
<rect x="373" y="27" width="1" height="15" fill="#9a9a9a" />
<path d="M377 33h1v1h-1zM378 33h1v1h-1zM379 33h1v1h-1zM380 33h1v1h-1zM381 33h1v1h-1zM382 33h1v1h-1zM383 33h1v1h-1zM378 34h1v1h-1zM379 34h1v1h-1zM380 34h1v1h-1zM381 34h1v1h-1zM382 34h1v1h-1zM379 35h1v1h-1zM380 35h1v1h-1zM381 35h1v1h-1zM380 36h1v1h-1z" fill="#000" stroke="none" stroke-width="1" class="c"/>
<rect x="400" y="28" width="5" height="5" fill="#000" />
<rect x="401" y="29" width="3" height="3" fill="#20c020" />
<rect x="402" y="34" width="1" height="4" fill="#000" />
<path d="M400 36h1v1h-1zM401 36h1v1h-1zM402 36h1v1h-1zM403 36h1v1h-1zM404 36h1v1h-1zM401 37h1v1h-1zM402 37h1v1h-1zM403 37h1v1h-1zM402 38h1v1h-1z" fill="#000" stroke="none" stroke-width="1" class="c"/>
<rect x="408" y="34" width="8" height="5" fill="#000" />
<rect x="409" y="35" width="6" height="3" fill="#ffff80" />
<rect x="400" y="40" width="1" height="1" fill="#000" />
<rect x="402" y="40" width="1" height="1" fill="#000" />
<rect x="404" y="40" width="1" height="1" fill="#000" />
<rect x="406" y="40" width="1" height="1" fill="#000" />
<rect x="408" y="40" width="1" height="1" fill="#000" />
<rect x="410" y="40" width="1" height="1" fill="#000" />
<rect x="412" y="40" width="1" height="1" fill="#000" />
<rect x="414" y="40" width="1" height="1" fill="#000" />
<rect x="416" y="40" width="1" height="1" fill="#000" />
<path d="M416 34h1v1h-1zM417 34h1v1h-1zM418 34h1v1h-1zM419 34h1v1h-1zM420 34h1v1h-1zM421 34h1v1h-1zM422 34h1v1h-1zM417 35h1v1h-1zM418 35h1v1h-1zM419 35h1v1h-1zM420 35h1v1h-1zM421 35h1v1h-1zM418 36h1v1h-1zM419 36h1v1h-1zM420 36h1v1h-1zM419 37h1v1h-1z" fill="#000" stroke="none" stroke-width="1" class="c"/>
<path d="M435.5 30V29.5L436.5 28.5H442L443.5 27.5L445 28.5H450.5L451.5 29.5V30" fill="none" stroke="#000" stroke-width="1" />
<rect x="436" y="35" width="3" height="3" fill="#000" />
<rect x="440" y="33" width="4" height="8" fill="#000" />
<rect x="441" y="34" width="2" height="6" fill="#ffff90" />
<rect x="445" y="36" width="6" height="5" fill="#000" />
<rect x="446" y="37" width="4" height="3" fill="#20c020" />
<path d="M452 34h1v1h-1zM453 34h1v1h-1zM454 34h1v1h-1zM455 34h1v1h-1zM456 34h1v1h-1zM457 34h1v1h-1zM458 34h1v1h-1zM453 35h1v1h-1zM454 35h1v1h-1zM455 35h1v1h-1zM456 35h1v1h-1zM457 35h1v1h-1zM454 36h1v1h-1zM455 36h1v1h-1zM456 36h1v1h-1zM455 37h1v1h-1z" fill="#000" stroke="none" stroke-width="1" class="c"/>
<path d="M483.5 30C479 28 475.5 30 475.5 33.5C475.5 37 479 39 483 37.5" fill="none" stroke="#707070" stroke-width="2.2" />
<path d="M479.5 36L484 38L481 41.5" fill="none" stroke="#909090" stroke-width="1.2" />
<path d="M481.5 37C486 39 489.5 37 489.5 33.5C489.5 30 486 28 482 29.5" fill="none" stroke="#8a8a8a" stroke-width="2.2" />
<path d="M485 27L481 29.5L485 32" fill="none" stroke="#000" stroke-width="1.6" />
<path d="M480.5 27L476.5 29.5" fill="none" stroke="#000" stroke-width="1.4" />
<path d="M491 34h1v1h-1zM492 34h1v1h-1zM493 34h1v1h-1zM494 34h1v1h-1zM495 34h1v1h-1zM496 34h1v1h-1zM497 34h1v1h-1zM492 35h1v1h-1zM493 35h1v1h-1zM494 35h1v1h-1zM495 35h1v1h-1zM496 35h1v1h-1zM493 36h1v1h-1zM494 36h1v1h-1zM495 36h1v1h-1zM494 37h1v1h-1z" fill="#000" stroke="none" stroke-width="1" class="c"/>
<text x="1310.5" y="42" font-size="19" fill="#000" font-weight="bold" font-style="normal" text-anchor="start" textLength="10.5" lengthAdjust="spacingAndGlyphs" stroke="#000" stroke-width="1.8" stroke-linejoin="round">?</text>
<text x="1310.5" y="42" font-size="19" fill="#ffff78" font-weight="bold" font-style="normal" text-anchor="start" textLength="10.5" lengthAdjust="spacingAndGlyphs" >?</text>
<rect x="1331" y="8" width="32" height="32" fill="#fff" />
<rect x="1331" y="8" width="32" height="1" fill="#000" />
<rect x="1331" y="39" width="32" height="1" fill="#000" />
<rect x="1331" y="8" width="1" height="32" fill="#000" />
<rect x="1362" y="8" width="1" height="32" fill="#000" />
<rect x="1333" y="10" width="23" height="18" fill="#000" />
<rect x="1334" y="11" width="21" height="16" fill="#c8c8c8" />
<rect x="1335" y="13" width="2" height="2" fill="#000" />
<rect x="1338" y="13" width="2" height="2" fill="#000" />
<rect x="1341" y="13" width="2" height="2" fill="#000" />
<rect x="1344" y="13" width="2" height="2" fill="#000" />
<rect x="1349" y="13" width="3" height="2" fill="#000" />
<rect x="1335" y="16" width="13" height="7" fill="#000" />
<path d="M1336.5 20.5L1338 18.5L1339.5 20.5L1341 18.5L1342.5 20.5L1344 18.5L1345.5 20.5L1346.5 19" fill="none" stroke="#20d020" stroke-width="0.9" />
<rect x="1349" y="16" width="4" height="7" fill="#000" />
<rect x="1350" y="17" width="2" height="2" fill="#fff" />
<rect x="1350" y="19" width="2" height="3" fill="#3090ff" />
<rect x="1335" y="24" width="5" height="1" fill="#000" />
<rect x="1341" y="24" width="1" height="1" fill="#000" />
<rect x="1343" y="24" width="4" height="1" fill="#000" />
<text x="1339.5" y="37" font-size="10" fill="#000" font-weight="normal" font-style="normal" text-anchor="start" textLength="4" lengthAdjust="spacingAndGlyphs" >1</text>
<rect x="1347" y="26" width="4" height="1" fill="#ff8040" />
<rect x="1359" y="29" width="3" height="1" fill="#ff8040" />
<rect x="1347" y="31" width="3" height="1" fill="#0000d0" />
<path d="M1350.5 24.5L1359.5 29.5L1350.5 34.5Z" fill="#ffe820" stroke="#000" stroke-width="1" />
<rect x="1352" y="29" width="3" height="1" fill="#000" />
<rect x="1353" y="28" width="1" height="3" fill="#000" />
<rect x="1137" y="590" width="34" height="17" fill="#fff" />
<rect x="1137" y="590" width="34" height="1" fill="#000" />
<rect x="1137" y="606" width="34" height="1" fill="#000" />
<rect x="1137" y="590" width="1" height="17" fill="#000" />
<rect x="1170" y="590" width="1" height="17" fill="#000" />
<text x="1138.8" y="603" font-size="12" fill="#000" font-weight="normal" font-style="normal" text-anchor="start" textLength="30.2" lengthAdjust="spacingAndGlyphs" >Stopp</text>
<rect x="1137" y="607" width="38" height="38" fill="#0d7a0d" />
<rect x="1139" y="609" width="34" height="34" fill="#eaffea" />
<rect x="1140" y="610" width="32" height="32" fill="#0d7a0d" />
<rect x="1141" y="611" width="30" height="30" fill="#b2b2b2" />
<rect x="1148" y="636" width="17" height="7" fill="#0d7a0d" />
<rect x="1149" y="637" width="15" height="7" fill="#fff" />
<rect x="1148" y="643" width="1" height="2" fill="#0d7a0d" />
<rect x="1164" y="643" width="1" height="2" fill="#0d7a0d" />
<rect x="1150" y="638" width="5" height="1" fill="#0d7a0d" />
<rect x="1152" y="638" width="1" height="5" fill="#0d7a0d" />
<rect x="1157" y="638" width="4" height="1" fill="#0d7a0d" />
<rect x="1157" y="638" width="1" height="5" fill="#0d7a0d" />
<rect x="1157" y="640" width="3" height="1" fill="#0d7a0d" />
<rect x="1142" y="619" width="28" height="15" fill="#8c8c8c" />
<rect x="1143" y="620" width="26" height="13" fill="#e6e6e6" />
<text x="1145.5" y="630" font-size="7.5" fill="#e02020" font-weight="bold" font-style="normal" text-anchor="start" textLength="19" lengthAdjust="spacingAndGlyphs" >STOP</text>
<path d="M1169.5 622L1174 626.5L1169.5 631Z" fill="#fff" stroke="#000" stroke-width="1" />
<path d="M1176 626h1v1h-1zM1178 626h1v1h-1zM1180 626h1v1h-1zM1182 626h1v1h-1zM1184 626h1v1h-1zM1186 626h1v1h-1zM1188 626h1v1h-1zM1190 626h1v1h-1z" fill="#0d7a0d" stroke="none" stroke-width="1" />
<rect x="1191" y="625" width="16" height="16" fill="#ffffd8" />
<rect x="1191" y="625" width="16" height="1" fill="#2a7f2a" />
<rect x="1191" y="640" width="16" height="1" fill="#2a7f2a" />
<rect x="1191" y="625" width="1" height="16" fill="#2a7f2a" />
<rect x="1206" y="625" width="1" height="16" fill="#2a7f2a" />
<path d="M1196.723 627.5L1201.277 627.5L1204.5 630.723L1204.5 635.277L1201.277 638.5L1196.723 638.5L1193.5 635.277L1193.5 630.723Z" fill="#fff" stroke="#000" stroke-width="1" />
<path d="M1197.5096 629.4L1200.4904 629.4L1202.6 631.5096L1202.6 634.4904L1200.4904 636.6L1197.5096 636.6L1195.4 634.4904L1195.4 631.5096Z" fill="#ff0000" stroke="none" stroke-width="1" />
<rect x="89" y="629" width="16" height="16" fill="#0000c8" />
<rect x="91" y="631" width="12" height="12" fill="#fff" />
<rect x="92" y="632" width="10" height="10" fill="#ffffc8" />
<rect x="96" y="633" width="2" height="2" fill="#000090" />
<rect x="96" y="636" width="2" height="6" fill="#0000b0" />
<defs>
<linearGradient id="vth" x1="0" x2="1"><stop offset="0" stop-color="#f6f6f6"/><stop offset="0.45" stop-color="#eeeeee"/><stop offset="0.5" stop-color="#d9d9dc"/><stop offset="1" stop-color="#c6c6ca"/></linearGradient>
<linearGradient id="hth" x1="0" x2="0" y1="0" y2="1"><stop offset="0" stop-color="#f6f6f6"/><stop offset="0.45" stop-color="#eeeeee"/><stop offset="0.5" stop-color="#d9d9dc"/><stop offset="1" stop-color="#c6c6ca"/></linearGradient>
<linearGradient id="vtr" x1="0" x2="1"><stop offset="0" stop-color="#e6e6e6"/><stop offset="0.2" stop-color="#f0f0f0"/><stop offset="1" stop-color="#f4f4f4"/></linearGradient>
<linearGradient id="htr" x1="0" x2="0" y1="0" y2="1"><stop offset="0" stop-color="#e6e6e6"/><stop offset="0.2" stop-color="#f0f0f0"/><stop offset="1" stop-color="#f4f4f4"/></linearGradient>
</defs>
<rect x="1348" y="47" width="16" height="650" fill="url(#vtr)" />
<rect x="1348.5" y="172.5" width="14" height="426" rx="2" fill="url(#vth)" stroke="#979797"/>
<rect x="1349.5" y="173.5" width="12" height="424" rx="1" fill="none" stroke="#ffffff" stroke-opacity="0.7"/>
<rect x="1352" y="382" width="7" height="1" fill="#8a8a8a" />
<rect x="1352" y="385" width="7" height="1" fill="#8a8a8a" />
<rect x="1352" y="388" width="7" height="1" fill="#8a8a8a" />
<rect x="1352" y="383" width="7" height="1" fill="#ffffff" />
<rect x="1352" y="386" width="7" height="1" fill="#ffffff" />
<rect x="1352" y="389" width="7" height="1" fill="#ffffff" />
<path d="M1356 54h1v1h-1zM1355 55h1v1h-1zM1356 55h1v1h-1zM1357 55h1v1h-1zM1354 56h1v1h-1zM1355 56h1v1h-1zM1356 56h1v1h-1zM1357 56h1v1h-1zM1358 56h1v1h-1zM1353 57h1v1h-1zM1354 57h1v1h-1zM1355 57h1v1h-1zM1356 57h1v1h-1zM1357 57h1v1h-1zM1358 57h1v1h-1zM1359 57h1v1h-1z" fill="#606060" stroke="none" stroke-width="1" class="c"/>
<path d="M1353 688h1v1h-1zM1354 688h1v1h-1zM1355 688h1v1h-1zM1356 688h1v1h-1zM1357 688h1v1h-1zM1358 688h1v1h-1zM1359 688h1v1h-1zM1354 689h1v1h-1zM1355 689h1v1h-1zM1356 689h1v1h-1zM1357 689h1v1h-1zM1358 689h1v1h-1zM1355 690h1v1h-1zM1356 690h1v1h-1zM1357 690h1v1h-1zM1356 691h1v1h-1z" fill="#404040" stroke="none" stroke-width="1" class="c"/>
<rect x="97" y="697" width="1250" height="17" fill="url(#htr)" />
<rect x="288.5" y="698.5" width="901" height="14" rx="2" fill="url(#hth)" stroke="#979797"/>
<rect x="289.5" y="699.5" width="899" height="12" rx="1" fill="none" stroke="#ffffff" stroke-opacity="0.7"/>
<rect x="735" y="702" width="1" height="7" fill="#8a8a8a" />
<rect x="738" y="702" width="1" height="7" fill="#8a8a8a" />
<rect x="741" y="702" width="1" height="7" fill="#8a8a8a" />
<rect x="736" y="702" width="1" height="7" fill="#ffffff" />
<rect x="739" y="702" width="1" height="7" fill="#ffffff" />
<rect x="742" y="702" width="1" height="7" fill="#ffffff" />
<path d="M105 702h1v1h-1zM104 703h1v1h-1zM105 703h1v1h-1zM103 704h1v1h-1zM104 704h1v1h-1zM105 704h1v1h-1zM102 705h1v1h-1zM103 705h1v1h-1zM104 705h1v1h-1zM105 705h1v1h-1zM103 706h1v1h-1zM104 706h1v1h-1zM105 706h1v1h-1zM104 707h1v1h-1zM105 707h1v1h-1zM105 708h1v1h-1z" fill="#404040" stroke="none" stroke-width="1" class="c"/>
<path d="M1338 702h1v1h-1zM1338 703h1v1h-1zM1339 703h1v1h-1zM1338 704h1v1h-1zM1339 704h1v1h-1zM1340 704h1v1h-1zM1338 705h1v1h-1zM1339 705h1v1h-1zM1340 705h1v1h-1zM1341 705h1v1h-1zM1338 706h1v1h-1zM1339 706h1v1h-1zM1340 706h1v1h-1zM1338 707h1v1h-1zM1339 707h1v1h-1zM1338 708h1v1h-1z" fill="#404040" stroke="none" stroke-width="1" class="c"/>
<rect x="1347" y="697" width="17" height="17" fill="#f0f0f0" />
<rect x="1361" y="705" width="2" height="2" fill="#b8b8b8" />
<rect x="1362" y="706" width="1" height="1" fill="#ffffff" />
<rect x="1358" y="708" width="2" height="2" fill="#b8b8b8" />
<rect x="1359" y="709" width="1" height="1" fill="#ffffff" />
<rect x="1361" y="708" width="2" height="2" fill="#b8b8b8" />
<rect x="1362" y="709" width="1" height="1" fill="#ffffff" />
<rect x="1355" y="711" width="2" height="2" fill="#b8b8b8" />
<rect x="1356" y="712" width="1" height="1" fill="#ffffff" />
<rect x="1358" y="711" width="2" height="2" fill="#b8b8b8" />
<rect x="1359" y="712" width="1" height="1" fill="#ffffff" />
<rect x="1361" y="711" width="2" height="2" fill="#b8b8b8" />
<rect x="1362" y="712" width="1" height="1" fill="#ffffff" />
<rect x="2" y="697" width="95" height="17" fill="#f6f6fa" />
<rect x="2" y="697" width="95" height="1" fill="#000" />
<rect x="2" y="713" width="95" height="1" fill="#000" />
<rect x="2" y="697" width="1" height="17" fill="#000" />
<rect x="96" y="697" width="1" height="17" fill="#000" />
<rect x="96" y="698" width="1" height="15" fill="#f6f6fa" />
<text x="5.5" y="709.5" font-size="12" fill="#101018" font-weight="normal" font-style="normal" text-anchor="start" textLength="90.5" lengthAdjust="spacingAndGlyphs" >Studentenversion</text>
<rect x="2" y="714" width="1362" height="1" fill="#5a5a5a" />
<rect x="0" y="715" width="1366" height="1" fill="#d8d8d8" />
<ellipse cx="27" cy="723.5" rx="12.5" ry="11.5" fill="#b8cce4" stroke="#41698f" stroke-width="1"/>
<defs><filter id="wblur" x="-5%" y="-20%" width="110%" height="140%"><feGaussianBlur stdDeviation="0.8"/></filter></defs>
<mask id="wm" maskUnits="userSpaceOnUse" x="1000" y="600" width="366" height="116"><rect x="1000" y="600" width="366" height="116" fill="#fff"/><g fill="#000" stroke="#000"><text transform="translate(1088.5,634.3) skewX(-9)" x="0" y="0" font-size="24.7" font-weight="bold" textLength="123.5" lengthAdjust="spacingAndGlyphs" stroke-width="1.1" stroke-linejoin="round">NATIONAL</text>
<text transform="translate(1081,658.2) skewX(-9)" x="0" y="0" font-size="26.5" font-weight="bold" textLength="172" lengthAdjust="spacingAndGlyphs" stroke-width="1.1" stroke-linejoin="round">INSTRUMENTS</text>
<text transform="translate(1056,688.6) skewX(-7)" x="0" y="0" font-size="26.6" font-weight="bold" textLength="88" lengthAdjust="spacingAndGlyphs" stroke-width="1.1" stroke-linejoin="round">LabVIEW</text>
<text transform="translate(1156,688.6) skewX(-7)" x="0" y="0" font-size="26.6" font-weight="bold" textLength="186" lengthAdjust="spacingAndGlyphs" stroke-width="1.1" stroke-linejoin="round">Studentenversion</text>
<text transform="translate(1145.5,676) skewX(0)" x="0" y="0" font-size="6.5" font-weight="bold" textLength="8" lengthAdjust="spacingAndGlyphs" stroke-width="1.1" stroke-linejoin="round">TM</text>
<text transform="translate(1256,646) skewX(0)" x="0" y="0" font-size="6.5" font-weight="bold" textLength="8" lengthAdjust="spacingAndGlyphs" stroke-width="1.1" stroke-linejoin="round">TM</text>
<path d="M1027.3 621.2C1035 617 1043 615.5 1049.3 615.9L1076.7 644.7L1061.1 652.1C1050 640 1040 628 1027.3 621.2Z"/>
<path d="M1061 621.5C1068 617.5 1078 616 1086.5 616.4C1081 624 1078.5 632 1077.7 640L1064 626.5C1067 624 1071 622.8 1075 623.4C1070 621.5 1065 621.8 1063 624Z"/>
<path d="M1043 649.1L1052 652L1055.2 656.9C1049 661 1044 666 1041 671.6C1039.5 664 1040.5 656 1043 649.1Z"/></g></mask>
<g mask="url(#wm)"><g fill="#b0b0b0" stroke="#b0b0b0" opacity="0.5" transform="translate(-0.7,-0.7)"><text transform="translate(1088.5,634.3) skewX(-9)" x="0" y="0" font-size="24.7" font-weight="bold" textLength="123.5" lengthAdjust="spacingAndGlyphs" stroke-width="1.1" stroke-linejoin="round">NATIONAL</text>
<text transform="translate(1081,658.2) skewX(-9)" x="0" y="0" font-size="26.5" font-weight="bold" textLength="172" lengthAdjust="spacingAndGlyphs" stroke-width="1.1" stroke-linejoin="round">INSTRUMENTS</text>
<text transform="translate(1056,688.6) skewX(-7)" x="0" y="0" font-size="26.6" font-weight="bold" textLength="88" lengthAdjust="spacingAndGlyphs" stroke-width="1.1" stroke-linejoin="round">LabVIEW</text>
<text transform="translate(1156,688.6) skewX(-7)" x="0" y="0" font-size="26.6" font-weight="bold" textLength="186" lengthAdjust="spacingAndGlyphs" stroke-width="1.1" stroke-linejoin="round">Studentenversion</text>
<text transform="translate(1145.5,676) skewX(0)" x="0" y="0" font-size="6.5" font-weight="bold" textLength="8" lengthAdjust="spacingAndGlyphs" stroke-width="1.1" stroke-linejoin="round">TM</text>
<text transform="translate(1256,646) skewX(0)" x="0" y="0" font-size="6.5" font-weight="bold" textLength="8" lengthAdjust="spacingAndGlyphs" stroke-width="1.1" stroke-linejoin="round">TM</text>
<path d="M1027.3 621.2C1035 617 1043 615.5 1049.3 615.9L1076.7 644.7L1061.1 652.1C1050 640 1040 628 1027.3 621.2Z"/>
<path d="M1061 621.5C1068 617.5 1078 616 1086.5 616.4C1081 624 1078.5 632 1077.7 640L1064 626.5C1067 624 1071 622.8 1075 623.4C1070 621.5 1065 621.8 1063 624Z"/>
<path d="M1043 649.1L1052 652L1055.2 656.9C1049 661 1044 666 1041 671.6C1039.5 664 1040.5 656 1043 649.1Z"/></g><g fill="#6e6e6e" stroke="#6e6e6e" opacity="0.58" filter="url(#wblur)" transform="translate(2.2,2.3)"><text transform="translate(1088.5,634.3) skewX(-9)" x="0" y="0" font-size="24.7" font-weight="bold" textLength="123.5" lengthAdjust="spacingAndGlyphs" stroke-width="1.1" stroke-linejoin="round">NATIONAL</text>
<text transform="translate(1081,658.2) skewX(-9)" x="0" y="0" font-size="26.5" font-weight="bold" textLength="172" lengthAdjust="spacingAndGlyphs" stroke-width="1.1" stroke-linejoin="round">INSTRUMENTS</text>
<text transform="translate(1056,688.6) skewX(-7)" x="0" y="0" font-size="26.6" font-weight="bold" textLength="88" lengthAdjust="spacingAndGlyphs" stroke-width="1.1" stroke-linejoin="round">LabVIEW</text>
<text transform="translate(1156,688.6) skewX(-7)" x="0" y="0" font-size="26.6" font-weight="bold" textLength="186" lengthAdjust="spacingAndGlyphs" stroke-width="1.1" stroke-linejoin="round">Studentenversion</text>
<text transform="translate(1145.5,676) skewX(0)" x="0" y="0" font-size="6.5" font-weight="bold" textLength="8" lengthAdjust="spacingAndGlyphs" stroke-width="1.1" stroke-linejoin="round">TM</text>
<text transform="translate(1256,646) skewX(0)" x="0" y="0" font-size="6.5" font-weight="bold" textLength="8" lengthAdjust="spacingAndGlyphs" stroke-width="1.1" stroke-linejoin="round">TM</text>
<path d="M1027.3 621.2C1035 617 1043 615.5 1049.3 615.9L1076.7 644.7L1061.1 652.1C1050 640 1040 628 1027.3 621.2Z"/>
<path d="M1061 621.5C1068 617.5 1078 616 1086.5 616.4C1081 624 1078.5 632 1077.7 640L1064 626.5C1067 624 1071 622.8 1075 623.4C1070 621.5 1065 621.8 1063 624Z"/>
<path d="M1043 649.1L1052 652L1055.2 656.9C1049 661 1044 666 1041 671.6C1039.5 664 1040.5 656 1043 649.1Z"/></g></g>
<g fill="#ffffff" stroke="#ffffff" opacity="0.5"><text transform="translate(1088.5,634.3) skewX(-9)" x="0" y="0" font-size="24.7" font-weight="bold" textLength="123.5" lengthAdjust="spacingAndGlyphs" stroke-width="1.1" stroke-linejoin="round">NATIONAL</text>
<text transform="translate(1081,658.2) skewX(-9)" x="0" y="0" font-size="26.5" font-weight="bold" textLength="172" lengthAdjust="spacingAndGlyphs" stroke-width="1.1" stroke-linejoin="round">INSTRUMENTS</text>
<text transform="translate(1056,688.6) skewX(-7)" x="0" y="0" font-size="26.6" font-weight="bold" textLength="88" lengthAdjust="spacingAndGlyphs" stroke-width="1.1" stroke-linejoin="round">LabVIEW</text>
<text transform="translate(1156,688.6) skewX(-7)" x="0" y="0" font-size="26.6" font-weight="bold" textLength="186" lengthAdjust="spacingAndGlyphs" stroke-width="1.1" stroke-linejoin="round">Studentenversion</text>
<text transform="translate(1145.5,676) skewX(0)" x="0" y="0" font-size="6.5" font-weight="bold" textLength="8" lengthAdjust="spacingAndGlyphs" stroke-width="1.1" stroke-linejoin="round">TM</text>
<text transform="translate(1256,646) skewX(0)" x="0" y="0" font-size="6.5" font-weight="bold" textLength="8" lengthAdjust="spacingAndGlyphs" stroke-width="1.1" stroke-linejoin="round">TM</text>
<path d="M1027.3 621.2C1035 617 1043 615.5 1049.3 615.9L1076.7 644.7L1061.1 652.1C1050 640 1040 628 1027.3 621.2Z"/>
<path d="M1061 621.5C1068 617.5 1078 616 1086.5 616.4C1081 624 1078.5 632 1077.7 640L1064 626.5C1067 624 1071 622.8 1075 623.4C1070 621.5 1065 621.8 1063 624Z"/>
<path d="M1043 649.1L1052 652L1055.2 656.9C1049 661 1044 666 1041 671.6C1039.5 664 1040.5 656 1043 649.1Z"/></g>
</svg>
</body></html>
